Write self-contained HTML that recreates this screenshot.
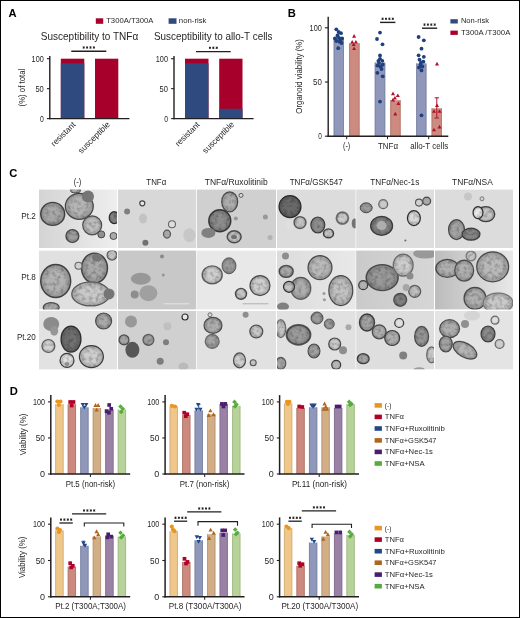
<!DOCTYPE html>
<html><head><meta charset="utf-8"><title>figure</title><style>
html,body{margin:0;padding:0;background:#fff;width:520px;height:618px;overflow:hidden;}
svg{display:block;will-change:transform;}
text{font-family:"Liberation Sans",sans-serif;}
</style></head><body>
<svg width="520" height="618" viewBox="0 0 520 618">
<text x="8.60" y="17.10" font-size="11.2" fill="#000" font-weight="bold" >A</text>
<rect x="95.80" y="18.30" width="7.40" height="5.50" fill="#a6002b" />
<text x="106.20" y="23.40" font-size="7.7" textLength="47.30" lengthAdjust="spacingAndGlyphs" fill="#231f20" >T300A/T300A</text>
<rect x="168.60" y="18.30" width="7.90" height="5.50" fill="#2e4a7e" />
<text x="178.80" y="23.40" font-size="7.7" textLength="27.70" lengthAdjust="spacingAndGlyphs" fill="#231f20" >non-risk</text>
<text x="40.80" y="39.70" font-size="10.2" textLength="97.40" lengthAdjust="spacingAndGlyphs" fill="#231f20" >Susceptibility to TNFα</text>
<rect x="60.80" y="58.70" width="23.50" height="59.90" fill="#a6002b" />
<rect x="60.80" y="63.30" width="23.50" height="55.30" fill="#2e4a7e" />
<rect x="95.00" y="58.70" width="23.30" height="59.90" fill="#a6002b" />
<line x1="49.80" y1="56.00" x2="49.80" y2="119.30" stroke="#231f20" stroke-width="1.4"/>
<line x1="49.10" y1="118.60" x2="129.40" y2="118.60" stroke="#231f20" stroke-width="1.4"/>
<line x1="46.90" y1="58.70" x2="49.80" y2="58.70" stroke="#231f20" stroke-width="1.1"/>
<text x="43.80" y="61.60" font-size="8.9" text-anchor="end" textLength="12.20" lengthAdjust="spacingAndGlyphs" fill="#231f20" >100</text>
<line x1="46.90" y1="88.65" x2="49.80" y2="88.65" stroke="#231f20" stroke-width="1.1"/>
<text x="43.80" y="91.55" font-size="8.9" text-anchor="end" textLength="8.40" lengthAdjust="spacingAndGlyphs" fill="#231f20" >50</text>
<line x1="46.90" y1="118.60" x2="49.80" y2="118.60" stroke="#231f20" stroke-width="1.1"/>
<text x="43.80" y="121.50" font-size="8.9" text-anchor="end" textLength="3.80" lengthAdjust="spacingAndGlyphs" fill="#231f20" >0</text>
<line x1="71.30" y1="51.30" x2="106.30" y2="51.30" stroke="#231f20" stroke-width="1.4"/>
<g stroke="#231f20" stroke-width="0.95"><line x1="83.70" y1="46.35" x2="83.70" y2="48.65"/><line x1="82.70" y1="46.92" x2="84.70" y2="48.08"/><line x1="82.70" y1="48.08" x2="84.70" y2="46.92"/></g>
<g stroke="#231f20" stroke-width="0.95"><line x1="87.10" y1="46.35" x2="87.10" y2="48.65"/><line x1="86.10" y1="46.92" x2="88.10" y2="48.08"/><line x1="86.10" y1="48.08" x2="88.10" y2="46.92"/></g>
<g stroke="#231f20" stroke-width="0.95"><line x1="90.50" y1="46.35" x2="90.50" y2="48.65"/><line x1="89.50" y1="46.92" x2="91.50" y2="48.08"/><line x1="89.50" y1="48.08" x2="91.50" y2="46.92"/></g>
<g stroke="#231f20" stroke-width="0.95"><line x1="93.90" y1="46.35" x2="93.90" y2="48.65"/><line x1="92.90" y1="46.92" x2="94.90" y2="48.08"/><line x1="92.90" y1="48.08" x2="94.90" y2="46.92"/></g>
<g transform="translate(21.70 87.60) rotate(-90)"><text x="0" y="3.20" font-size="9.2" text-anchor="middle" textLength="37.60" lengthAdjust="spacingAndGlyphs" fill="#231f20">(%) of total</text></g>
<g transform="translate(76.00 125.20) rotate(-45)"><text x="0" y="0.00" font-size="8.4" text-anchor="end" textLength="30.80" lengthAdjust="spacingAndGlyphs" fill="#231f20">resistant</text></g>
<g transform="translate(110.60 124.90) rotate(-45)"><text x="0" y="0.00" font-size="8.4" text-anchor="end" textLength="41.00" lengthAdjust="spacingAndGlyphs" fill="#231f20">susceptible</text></g>
<text x="154.00" y="39.70" font-size="10.2" textLength="118.50" lengthAdjust="spacingAndGlyphs" fill="#231f20" >Susceptibility to allo-T cells</text>
<rect x="185.00" y="58.70" width="23.50" height="59.90" fill="#a6002b" />
<rect x="185.00" y="63.30" width="23.50" height="55.30" fill="#2e4a7e" />
<rect x="219.20" y="58.70" width="23.30" height="59.90" fill="#a6002b" />
<rect x="219.20" y="108.80" width="23.30" height="9.80" fill="#2e4a7e" />
<line x1="174.00" y1="56.00" x2="174.00" y2="119.30" stroke="#231f20" stroke-width="1.4"/>
<line x1="173.30" y1="118.60" x2="253.60" y2="118.60" stroke="#231f20" stroke-width="1.4"/>
<line x1="171.10" y1="58.70" x2="174.00" y2="58.70" stroke="#231f20" stroke-width="1.1"/>
<text x="168.00" y="61.60" font-size="8.9" text-anchor="end" textLength="12.20" lengthAdjust="spacingAndGlyphs" fill="#231f20" >100</text>
<line x1="171.10" y1="88.65" x2="174.00" y2="88.65" stroke="#231f20" stroke-width="1.1"/>
<text x="168.00" y="91.55" font-size="8.9" text-anchor="end" textLength="8.40" lengthAdjust="spacingAndGlyphs" fill="#231f20" >50</text>
<line x1="171.10" y1="118.60" x2="174.00" y2="118.60" stroke="#231f20" stroke-width="1.1"/>
<text x="168.00" y="121.50" font-size="8.9" text-anchor="end" textLength="3.80" lengthAdjust="spacingAndGlyphs" fill="#231f20" >0</text>
<line x1="196.00" y1="51.60" x2="230.70" y2="51.60" stroke="#231f20" stroke-width="1.4"/>
<g stroke="#231f20" stroke-width="0.95"><line x1="209.95" y1="46.65" x2="209.95" y2="48.95"/><line x1="208.95" y1="47.23" x2="210.95" y2="48.38"/><line x1="208.95" y1="48.38" x2="210.95" y2="47.23"/></g>
<g stroke="#231f20" stroke-width="0.95"><line x1="213.35" y1="46.65" x2="213.35" y2="48.95"/><line x1="212.35" y1="47.23" x2="214.35" y2="48.38"/><line x1="212.35" y1="48.38" x2="214.35" y2="47.23"/></g>
<g stroke="#231f20" stroke-width="0.95"><line x1="216.75" y1="46.65" x2="216.75" y2="48.95"/><line x1="215.75" y1="47.23" x2="217.75" y2="48.38"/><line x1="215.75" y1="48.38" x2="217.75" y2="47.23"/></g>
<g transform="translate(200.20 125.20) rotate(-45)"><text x="0" y="0.00" font-size="8.4" text-anchor="end" textLength="30.80" lengthAdjust="spacingAndGlyphs" fill="#231f20">resistant</text></g>
<g transform="translate(234.80 124.90) rotate(-45)"><text x="0" y="0.00" font-size="8.4" text-anchor="end" textLength="41.00" lengthAdjust="spacingAndGlyphs" fill="#231f20">susceptible</text></g>
<text x="287.80" y="17.30" font-size="11.2" fill="#000" font-weight="bold" >B</text>
<rect x="333.70" y="37.00" width="10.20" height="99.20" fill="#8f97ba" />
<line x1="334.10" y1="37.00" x2="334.10" y2="136.20" stroke="#7a819f" stroke-width="0.8"/>
<line x1="343.50" y1="37.00" x2="343.50" y2="136.20" stroke="#7a819f" stroke-width="0.8"/>
<rect x="349.20" y="43.20" width="10.30" height="93.00" fill="#cc8b7e" />
<line x1="349.60" y1="43.20" x2="349.60" y2="136.20" stroke="#af776c" stroke-width="0.8"/>
<line x1="359.10" y1="43.20" x2="359.10" y2="136.20" stroke="#af776c" stroke-width="0.8"/>
<rect x="374.80" y="62.50" width="10.40" height="73.70" fill="#8f97ba" />
<line x1="375.20" y1="62.50" x2="375.20" y2="136.20" stroke="#7a819f" stroke-width="0.8"/>
<line x1="384.80" y1="62.50" x2="384.80" y2="136.20" stroke="#7a819f" stroke-width="0.8"/>
<rect x="390.30" y="100.20" width="10.30" height="36.00" fill="#cc8b7e" />
<line x1="390.70" y1="100.20" x2="390.70" y2="136.20" stroke="#af776c" stroke-width="0.8"/>
<line x1="400.20" y1="100.20" x2="400.20" y2="136.20" stroke="#af776c" stroke-width="0.8"/>
<rect x="416.20" y="63.40" width="10.20" height="72.80" fill="#8f97ba" />
<line x1="416.60" y1="63.40" x2="416.60" y2="136.20" stroke="#7a819f" stroke-width="0.8"/>
<line x1="426.00" y1="63.40" x2="426.00" y2="136.20" stroke="#7a819f" stroke-width="0.8"/>
<rect x="431.60" y="108.30" width="10.30" height="27.90" fill="#cc8b7e" />
<line x1="432.00" y1="108.30" x2="432.00" y2="136.20" stroke="#af776c" stroke-width="0.8"/>
<line x1="441.50" y1="108.30" x2="441.50" y2="136.20" stroke="#af776c" stroke-width="0.8"/>
<line x1="436.80" y1="97.80" x2="436.80" y2="118.00" stroke="#b0102e" stroke-width="1.0"/>
<line x1="434.60" y1="97.80" x2="439.00" y2="97.80" stroke="#b0102e" stroke-width="1.0"/>
<line x1="434.60" y1="118.00" x2="439.00" y2="118.00" stroke="#b0102e" stroke-width="1.0"/>
<circle cx="336.30" cy="29.30" r="1.90" fill="#1f3f7d"/>
<circle cx="338.60" cy="32.00" r="1.90" fill="#1f3f7d"/>
<circle cx="341.00" cy="33.20" r="1.90" fill="#1f3f7d"/>
<circle cx="335.00" cy="38.40" r="1.90" fill="#1f3f7d"/>
<circle cx="339.00" cy="37.90" r="1.90" fill="#1f3f7d"/>
<circle cx="342.00" cy="38.40" r="1.90" fill="#1f3f7d"/>
<circle cx="336.30" cy="41.00" r="1.90" fill="#1f3f7d"/>
<circle cx="339.60" cy="41.70" r="1.90" fill="#1f3f7d"/>
<circle cx="341.50" cy="43.00" r="1.90" fill="#1f3f7d"/>
<circle cx="338.20" cy="48.20" r="1.90" fill="#1f3f7d"/>
<circle cx="337.50" cy="35.50" r="1.90" fill="#1f3f7d"/>
<circle cx="340.50" cy="40.00" r="1.90" fill="#1f3f7d"/>
<circle cx="380.00" cy="32.60" r="1.90" fill="#1f3f7d"/>
<circle cx="377.00" cy="39.00" r="1.90" fill="#1f3f7d"/>
<circle cx="382.50" cy="44.30" r="1.90" fill="#1f3f7d"/>
<circle cx="380.00" cy="55.50" r="1.90" fill="#1f3f7d"/>
<circle cx="380.00" cy="58.80" r="1.90" fill="#1f3f7d"/>
<circle cx="378.40" cy="60.80" r="1.90" fill="#1f3f7d"/>
<circle cx="382.30" cy="60.80" r="1.90" fill="#1f3f7d"/>
<circle cx="377.40" cy="65.60" r="1.90" fill="#1f3f7d"/>
<circle cx="380.30" cy="66.60" r="1.90" fill="#1f3f7d"/>
<circle cx="382.70" cy="64.70" r="1.90" fill="#1f3f7d"/>
<circle cx="377.40" cy="72.80" r="1.90" fill="#1f3f7d"/>
<circle cx="382.70" cy="76.30" r="1.90" fill="#1f3f7d"/>
<circle cx="380.00" cy="101.60" r="1.90" fill="#1f3f7d"/>
<circle cx="379.00" cy="63.00" r="1.90" fill="#1f3f7d"/>
<circle cx="381.50" cy="69.00" r="1.90" fill="#1f3f7d"/>
<circle cx="418.60" cy="37.00" r="1.90" fill="#1f3f7d"/>
<circle cx="423.80" cy="40.30" r="1.90" fill="#1f3f7d"/>
<circle cx="421.50" cy="48.70" r="1.90" fill="#1f3f7d"/>
<circle cx="418.60" cy="55.30" r="1.90" fill="#1f3f7d"/>
<circle cx="423.80" cy="56.80" r="1.90" fill="#1f3f7d"/>
<circle cx="419.50" cy="59.70" r="1.90" fill="#1f3f7d"/>
<circle cx="423.40" cy="61.70" r="1.90" fill="#1f3f7d"/>
<circle cx="420.50" cy="64.60" r="1.90" fill="#1f3f7d"/>
<circle cx="422.40" cy="66.50" r="1.90" fill="#1f3f7d"/>
<circle cx="419.00" cy="67.50" r="1.90" fill="#1f3f7d"/>
<circle cx="421.50" cy="70.40" r="1.90" fill="#1f3f7d"/>
<circle cx="421.50" cy="115.30" r="1.90" fill="#1f3f7d"/>
<circle cx="421.00" cy="62.50" r="1.90" fill="#1f3f7d"/>
<polygon points="352.10,37.70 356.10,37.70 354.10,34.10" fill="#b0102e"/>
<polygon points="350.20,43.50 354.20,43.50 352.20,39.90" fill="#b0102e"/>
<polygon points="353.90,43.50 357.90,43.50 355.90,39.90" fill="#b0102e"/>
<polygon points="351.70,46.10 355.70,46.10 353.70,42.50" fill="#b0102e"/>
<polygon points="352.10,50.00 356.10,50.00 354.10,46.40" fill="#b0102e"/>
<polygon points="391.00,95.20 395.00,95.20 393.00,91.60" fill="#b0102e"/>
<polygon points="395.80,97.10 399.80,97.10 397.80,93.50" fill="#b0102e"/>
<polygon points="392.90,99.50 396.90,99.50 394.90,95.90" fill="#b0102e"/>
<polygon points="391.00,101.40 395.00,101.40 393.00,97.80" fill="#b0102e"/>
<polygon points="396.40,104.90 400.40,104.90 398.40,101.30" fill="#b0102e"/>
<polygon points="393.30,115.40 397.30,115.40 395.30,111.80" fill="#b0102e"/>
<polygon points="435.00,65.40 439.00,65.40 437.00,61.80" fill="#b0102e"/>
<polygon points="435.00,107.10 439.00,107.10 437.00,103.50" fill="#b0102e"/>
<polygon points="432.00,112.80 436.00,112.80 434.00,109.20" fill="#b0102e"/>
<polygon points="437.50,112.80 441.50,112.80 439.50,109.20" fill="#b0102e"/>
<polygon points="432.00,131.30 436.00,131.30 434.00,127.70" fill="#b0102e"/>
<polygon points="437.50,128.40 441.50,128.40 439.50,124.80" fill="#b0102e"/>
<line x1="328.20" y1="16.80" x2="328.20" y2="136.90" stroke="#231f20" stroke-width="1.4"/>
<line x1="327.50" y1="136.20" x2="448.30" y2="136.20" stroke="#231f20" stroke-width="1.4"/>
<line x1="324.90" y1="27.80" x2="328.20" y2="27.80" stroke="#231f20" stroke-width="1.1"/>
<text x="321.80" y="31.00" font-size="9.4" text-anchor="end" textLength="12.20" lengthAdjust="spacingAndGlyphs" fill="#231f20" >100</text>
<line x1="324.90" y1="82.00" x2="328.20" y2="82.00" stroke="#231f20" stroke-width="1.1"/>
<text x="321.80" y="85.20" font-size="9.4" text-anchor="end" textLength="8.80" lengthAdjust="spacingAndGlyphs" fill="#231f20" >50</text>
<line x1="324.90" y1="136.20" x2="328.20" y2="136.20" stroke="#231f20" stroke-width="1.1"/>
<text x="321.80" y="139.40" font-size="9.4" text-anchor="end" textLength="3.60" lengthAdjust="spacingAndGlyphs" fill="#231f20" >0</text>
<line x1="346.70" y1="136.20" x2="346.70" y2="139.20" stroke="#231f20" stroke-width="1.0"/>
<line x1="387.50" y1="136.20" x2="387.50" y2="139.20" stroke="#231f20" stroke-width="1.0"/>
<line x1="428.70" y1="136.20" x2="428.70" y2="139.20" stroke="#231f20" stroke-width="1.0"/>
<text x="346.60" y="149.00" font-size="8.8" text-anchor="middle" textLength="7.20" lengthAdjust="spacingAndGlyphs" fill="#231f20" >(-)</text>
<text x="388.00" y="149.00" font-size="8.8" text-anchor="middle" textLength="20.00" lengthAdjust="spacingAndGlyphs" fill="#231f20" >TNFα</text>
<text x="429.20" y="149.00" font-size="8.8" text-anchor="middle" textLength="38.00" lengthAdjust="spacingAndGlyphs" fill="#231f20" >allo-T cells</text>
<g transform="translate(299.00 76.40) rotate(-90)"><text x="0" y="3.40" font-size="9.8" text-anchor="middle" textLength="74.50" lengthAdjust="spacingAndGlyphs" fill="#231f20">Organoid viability (%)</text></g>
<line x1="380.00" y1="22.40" x2="395.40" y2="22.40" stroke="#231f20" stroke-width="1.4"/>
<g stroke="#231f20" stroke-width="0.95"><line x1="382.60" y1="17.65" x2="382.60" y2="19.95"/><line x1="381.60" y1="18.23" x2="383.60" y2="19.38"/><line x1="381.60" y1="19.38" x2="383.60" y2="18.23"/></g>
<g stroke="#231f20" stroke-width="0.95"><line x1="386.00" y1="17.65" x2="386.00" y2="19.95"/><line x1="385.00" y1="18.23" x2="387.00" y2="19.38"/><line x1="385.00" y1="19.38" x2="387.00" y2="18.23"/></g>
<g stroke="#231f20" stroke-width="0.95"><line x1="389.40" y1="17.65" x2="389.40" y2="19.95"/><line x1="388.40" y1="18.23" x2="390.40" y2="19.38"/><line x1="388.40" y1="19.38" x2="390.40" y2="18.23"/></g>
<g stroke="#231f20" stroke-width="0.95"><line x1="392.80" y1="17.65" x2="392.80" y2="19.95"/><line x1="391.80" y1="18.23" x2="393.80" y2="19.38"/><line x1="391.80" y1="19.38" x2="393.80" y2="18.23"/></g>
<line x1="422.00" y1="28.20" x2="437.20" y2="28.20" stroke="#231f20" stroke-width="1.4"/>
<g stroke="#231f20" stroke-width="0.95"><line x1="424.50" y1="23.45" x2="424.50" y2="25.75"/><line x1="423.50" y1="24.03" x2="425.50" y2="25.18"/><line x1="423.50" y1="25.18" x2="425.50" y2="24.03"/></g>
<g stroke="#231f20" stroke-width="0.95"><line x1="427.90" y1="23.45" x2="427.90" y2="25.75"/><line x1="426.90" y1="24.03" x2="428.90" y2="25.18"/><line x1="426.90" y1="25.18" x2="428.90" y2="24.03"/></g>
<g stroke="#231f20" stroke-width="0.95"><line x1="431.30" y1="23.45" x2="431.30" y2="25.75"/><line x1="430.30" y1="24.03" x2="432.30" y2="25.18"/><line x1="430.30" y1="25.18" x2="432.30" y2="24.03"/></g>
<g stroke="#231f20" stroke-width="0.95"><line x1="434.70" y1="23.45" x2="434.70" y2="25.75"/><line x1="433.70" y1="24.03" x2="435.70" y2="25.18"/><line x1="433.70" y1="25.18" x2="435.70" y2="24.03"/></g>
<rect x="450.40" y="19.20" width="7.40" height="4.30" fill="#2e4a7e" />
<text x="460.90" y="23.40" font-size="7.9" textLength="28.20" lengthAdjust="spacingAndGlyphs" fill="#231f20" >Non-risk</text>
<rect x="450.40" y="30.60" width="7.40" height="4.30" fill="#a6002b" />
<text x="460.90" y="34.90" font-size="7.9" textLength="49.40" lengthAdjust="spacingAndGlyphs" fill="#231f20" >T300A /T300A</text>
<text x="9.30" y="177.00" font-size="11.2" fill="#000" font-weight="bold" >C</text>
<text x="77.60" y="184.90" font-size="8.6" text-anchor="middle" textLength="7.50" lengthAdjust="spacingAndGlyphs" fill="#231f20" >(-)</text>
<text x="156.30" y="184.90" font-size="8.6" text-anchor="middle" textLength="20.00" lengthAdjust="spacingAndGlyphs" fill="#231f20" >TNFα</text>
<text x="236.20" y="184.90" font-size="8.6" text-anchor="middle" textLength="63.00" lengthAdjust="spacingAndGlyphs" fill="#231f20" >TNFα/Ruxolitinib</text>
<text x="316.20" y="184.90" font-size="8.6" text-anchor="middle" textLength="53.00" lengthAdjust="spacingAndGlyphs" fill="#231f20" >TNFα/GSK547</text>
<text x="394.80" y="184.90" font-size="8.6" text-anchor="middle" textLength="49.00" lengthAdjust="spacingAndGlyphs" fill="#231f20" >TNFα/Nec-1s</text>
<text x="472.40" y="184.90" font-size="8.6" text-anchor="middle" textLength="40.80" lengthAdjust="spacingAndGlyphs" fill="#231f20" >TNFα/NSA</text>
<text x="35.80" y="218.50" font-size="8.8" text-anchor="end" textLength="14.50" lengthAdjust="spacingAndGlyphs" fill="#231f20" >Pt.2</text>
<text x="35.80" y="280.00" font-size="8.8" text-anchor="end" textLength="14.50" lengthAdjust="spacingAndGlyphs" fill="#231f20" >Pt.8</text>
<text x="35.80" y="340.00" font-size="8.8" text-anchor="end" textLength="18.80" lengthAdjust="spacingAndGlyphs" fill="#231f20" >Pt.20</text>
<defs><radialGradient id="rim"><stop offset="0.55" stop-color="#000" stop-opacity="0"/><stop offset="0.92" stop-color="#000" stop-opacity="0.16"/><stop offset="1" stop-color="#000" stop-opacity="0.28"/></radialGradient>
<filter id="bl" x="-5%" y="-5%" width="110%" height="110%"><feGaussianBlur stdDeviation="0.55"/></filter>
<filter id="tx" x="0" y="0" width="100%" height="100%"><feTurbulence type="fractalNoise" baseFrequency="0.28" numOctaves="2" seed="3" result="n"/><feColorMatrix in="n" type="matrix" values="0 0 0 0 0  0 0 0 0 0  0 0 0 0 0  0.6 0 0 0 -0.26" result="a"/><feComposite in="a" in2="SourceAlpha" operator="in" result="m"/><feGaussianBlur in="m" stdDeviation="0.3"/></filter>
<clipPath id="cp00"><rect x="39.00" y="189.60" width="78.00" height="58.40"/></clipPath>
<clipPath id="cp01"><rect x="118.00" y="189.60" width="78.20" height="58.40"/></clipPath>
<clipPath id="cp02"><rect x="197.00" y="189.60" width="79.00" height="58.40"/></clipPath>
<clipPath id="cp03"><rect x="277.00" y="189.60" width="78.60" height="58.40"/></clipPath>
<clipPath id="cp04"><rect x="356.20" y="189.60" width="77.80" height="58.40"/></clipPath>
<clipPath id="cp05"><rect x="435.00" y="189.60" width="78.00" height="58.40"/></clipPath>
<clipPath id="cp10"><rect x="39.00" y="250.60" width="78.00" height="58.80"/></clipPath>
<clipPath id="cp11"><rect x="118.00" y="250.60" width="78.20" height="58.80"/></clipPath>
<clipPath id="cp12"><rect x="197.00" y="250.60" width="79.00" height="58.80"/></clipPath>
<clipPath id="cp13"><rect x="277.00" y="250.60" width="78.60" height="58.80"/></clipPath>
<clipPath id="cp14"><rect x="356.20" y="250.60" width="77.80" height="58.80"/></clipPath>
<clipPath id="cp15"><rect x="435.00" y="250.60" width="78.00" height="58.80"/></clipPath>
<clipPath id="cp20"><rect x="39.00" y="311.00" width="78.00" height="58.30"/></clipPath>
<clipPath id="cp21"><rect x="118.00" y="311.00" width="78.20" height="58.30"/></clipPath>
<clipPath id="cp22"><rect x="197.00" y="311.00" width="79.00" height="58.30"/></clipPath>
<clipPath id="cp23"><rect x="277.00" y="311.00" width="78.60" height="58.30"/></clipPath>
<clipPath id="cp24"><rect x="356.20" y="311.00" width="77.80" height="58.30"/></clipPath>
<clipPath id="cp25"><rect x="435.00" y="311.00" width="78.00" height="58.30"/></clipPath>
</defs>
<linearGradient id="g00" x1="0" y1="0" x2="1" y2="0"><stop offset="0" stop-color="#d4d4d4"/><stop offset="1" stop-color="#eeeeee"/></linearGradient>
<rect x="39.00" y="189.60" width="78.00" height="58.40" fill="url(#g00)" />
<g clip-path="url(#cp00)"><g filter="url(#bl)" transform="translate(39.00 189.60)">
<ellipse cx="36.5" cy="0.8" rx="5" ry="2.5" fill="#a9a9a9" stroke="#555" stroke-width="0.96"/>
<ellipse cx="36.5" cy="0.8" rx="5" ry="2.5" fill="url(#rim)"/>
<ellipse cx="36.5" cy="0.8" rx="4.60" ry="2.30" fill="#000" filter="url(#tx)"/>
<ellipse cx="13.7" cy="24.3" rx="12" ry="11.5" fill="#a8a8a8" stroke="#4a4a4a" stroke-width="1.44"/>
<ellipse cx="13.7" cy="24.3" rx="12" ry="11.5" fill="url(#rim)"/>
<ellipse cx="13.7" cy="24.3" rx="11.04" ry="10.58" fill="#000" filter="url(#tx)"/>
<ellipse cx="40.3" cy="16.7" rx="14" ry="13" fill="#b5b5b5" stroke="#505050" stroke-width="1.20"/>
<ellipse cx="40.3" cy="16.7" rx="14" ry="13" fill="url(#rim)"/>
<ellipse cx="40.3" cy="16.7" rx="12.88" ry="11.96" fill="#000" filter="url(#tx)"/>
<ellipse cx="49" cy="7" rx="6" ry="6" fill="#747474"/>
<ellipse cx="53.2" cy="35.7" rx="9.5" ry="9.5" fill="#bfbfbf" stroke="#5a5a5a" stroke-width="1.20"/>
<ellipse cx="53.2" cy="35.7" rx="9.5" ry="9.5" fill="url(#rim)"/>
<ellipse cx="53.2" cy="35.7" rx="8.74" ry="8.74" fill="#000" filter="url(#tx)"/>
<ellipse cx="33.4" cy="46.4" rx="6.5" ry="6.5" fill="#9e9e9e" stroke="#4a4a4a" stroke-width="1.20"/>
<ellipse cx="33.4" cy="46.4" rx="6.5" ry="6.5" fill="url(#rim)"/>
<ellipse cx="33.4" cy="46.4" rx="5.98" ry="5.98" fill="#000" filter="url(#tx)"/>
<ellipse cx="62.3" cy="44.8" rx="3.5" ry="3.5" fill="#909090" stroke="#444" stroke-width="0.96"/>
<ellipse cx="75.2" cy="28.1" rx="5" ry="6" fill="#848484" stroke="#333" stroke-width="1.20"/>
<ellipse cx="75.2" cy="28.1" rx="5" ry="6" fill="url(#rim)"/>
<ellipse cx="75.2" cy="28.1" rx="4.60" ry="5.52" fill="#000" filter="url(#tx)"/>
<ellipse cx="74.5" cy="46.4" rx="3.5" ry="3.5" fill="#ababab" stroke="#444" stroke-width="0.96"/>
</g></g>
<rect x="118.00" y="189.60" width="78.20" height="58.40" fill="#d8d8d8" />
<g clip-path="url(#cp01)"><g filter="url(#bl)" transform="translate(118.00 189.60)">
<ellipse cx="25" cy="29" rx="4" ry="5" fill="#c3c3c3"/>
<ellipse cx="71.4" cy="45.6" rx="6" ry="7" fill="#c7c7c7"/>
<ellipse cx="24.3" cy="13.7" rx="2.5" ry="2.5" fill="#ebebeb" stroke="#444" stroke-width="1.20"/>
<ellipse cx="9.1" cy="22" rx="3" ry="3" fill="#7f7f7f"/>
<ellipse cx="54" cy="34.7" rx="3.5" ry="3.5" fill="#dedede" stroke="#666" stroke-width="1.08"/>
<ellipse cx="49" cy="44.5" rx="3.5" ry="4" fill="#a7a7a7" stroke="#555" stroke-width="1.20"/>
<ellipse cx="27.4" cy="53.2" rx="3" ry="3" fill="#727272"/>
</g></g>
<rect x="197.00" y="189.60" width="79.00" height="58.40" fill="#d0d0d0" />
<g clip-path="url(#cp02)"><g filter="url(#bl)" transform="translate(197.00 189.60)">
<ellipse cx="32.7" cy="12.2" rx="8" ry="10" fill="#aeaeae" stroke="#555" stroke-width="1.20"/>
<ellipse cx="32.7" cy="12.2" rx="8" ry="10" fill="url(#rim)"/>
<ellipse cx="32.7" cy="12.2" rx="7.36" ry="9.20" fill="#000" filter="url(#tx)"/>
<ellipse cx="22.8" cy="31.2" rx="11" ry="11" fill="#8d8d8d" stroke="#404040" stroke-width="1.44"/>
<ellipse cx="22.8" cy="31.2" rx="11" ry="11" fill="url(#rim)"/>
<ellipse cx="22.8" cy="31.2" rx="10.12" ry="10.12" fill="#000" filter="url(#tx)"/>
<ellipse cx="11.4" cy="43.3" rx="7" ry="5" fill="#808080"/>
<ellipse cx="37.2" cy="47.1" rx="7" ry="6" fill="#c4c4c4" stroke="#555" stroke-width="1.44"/>
<ellipse cx="37.2" cy="47.1" rx="7" ry="6" fill="url(#rim)"/>
<ellipse cx="37.2" cy="47.1" rx="6.44" ry="5.52" fill="#000" filter="url(#tx)"/>
<ellipse cx="37" cy="47.5" rx="3" ry="2" fill="#707070"/>
<ellipse cx="38.8" cy="28.9" rx="2" ry="2" fill="#989898"/>
<ellipse cx="68.4" cy="27.4" rx="2.5" ry="2.5" fill="#989898"/>
<ellipse cx="73" cy="47.9" rx="2.5" ry="2.5" fill="#b2b2b2"/>
<ellipse cx="44" cy="5.8" rx="2" ry="2" fill="#dadada" stroke="#555" stroke-width="0.96"/>
</g></g>
<rect x="277.00" y="189.60" width="78.60" height="58.40" fill="#dcdcdc" />
<g clip-path="url(#cp03)"><g filter="url(#bl)" transform="translate(277.00 189.60)">
<ellipse cx="13" cy="35.4" rx="5" ry="5" fill="#dfdfdf"/>
<ellipse cx="13" cy="17" rx="11" ry="11" fill="#6a6a6a" stroke="#333" stroke-width="1.20"/>
<ellipse cx="13" cy="17" rx="11" ry="11" fill="url(#rim)"/>
<ellipse cx="13" cy="17" rx="10.12" ry="10.12" fill="#000" filter="url(#tx)"/>
<ellipse cx="23" cy="33" rx="6" ry="6" fill="#c2c2c2" stroke="#666" stroke-width="1.44"/>
<ellipse cx="23" cy="33" rx="6" ry="6" fill="url(#rim)"/>
<ellipse cx="23" cy="33" rx="5.52" ry="5.52" fill="#000" filter="url(#tx)"/>
<ellipse cx="40.8" cy="35.4" rx="7" ry="8" fill="#909090" stroke="#444" stroke-width="1.20"/>
<ellipse cx="40.8" cy="35.4" rx="7" ry="8" fill="url(#rim)"/>
<ellipse cx="40.8" cy="35.4" rx="6.44" ry="7.36" fill="#000" filter="url(#tx)"/>
<ellipse cx="51.5" cy="43.8" rx="5" ry="4.5" fill="#c2c2c2" stroke="#444" stroke-width="1.44"/>
<ellipse cx="51.5" cy="43.8" rx="5" ry="4.5" fill="url(#rim)"/>
<ellipse cx="51.5" cy="43.8" rx="4.60" ry="4.14" fill="#000" filter="url(#tx)"/>
<ellipse cx="65.4" cy="28.5" rx="6" ry="6" fill="#cccccc" stroke="#777" stroke-width="1.80"/>
<ellipse cx="65.4" cy="28.5" rx="6" ry="6" fill="url(#rim)"/>
<ellipse cx="65.4" cy="28.5" rx="5.52" ry="5.52" fill="#000" filter="url(#tx)"/>
<ellipse cx="77.7" cy="33.8" rx="3" ry="5" fill="#737373"/>
</g></g>
<rect x="356.20" y="189.60" width="77.80" height="58.40" fill="#dedede" />
<g clip-path="url(#cp04)"><g filter="url(#bl)" transform="translate(356.20 189.60)">
<ellipse cx="10" cy="18.2" rx="6" ry="5" fill="#9c9c9c" stroke="#555" stroke-width="0.96"/>
<ellipse cx="10" cy="18.2" rx="6" ry="5" fill="url(#rim)"/>
<ellipse cx="10" cy="18.2" rx="5.52" ry="4.60" fill="#000" filter="url(#tx)"/>
<ellipse cx="27" cy="14.6" rx="4.5" ry="4.5" fill="#cacaca" stroke="#777" stroke-width="1.20"/>
<ellipse cx="27" cy="14.6" rx="4.5" ry="4.5" fill="url(#rim)"/>
<ellipse cx="25.4" cy="36.2" rx="11" ry="9.5" fill="#848484" stroke="#444" stroke-width="1.20"/>
<ellipse cx="25.4" cy="36.2" rx="11" ry="9.5" fill="url(#rim)"/>
<ellipse cx="25.4" cy="36.2" rx="10.12" ry="8.74" fill="#000" filter="url(#tx)"/>
<ellipse cx="25.4" cy="36" rx="5" ry="4.5" fill="#aeaeae"/>
<ellipse cx="57.7" cy="28.5" rx="6.5" ry="7.5" fill="#d9d9d9" stroke="#333" stroke-width="1.20"/>
<ellipse cx="57.7" cy="28.5" rx="6.5" ry="7.5" fill="url(#rim)"/>
<ellipse cx="57.7" cy="28.5" rx="5.98" ry="6.90" fill="#000" filter="url(#tx)"/>
<ellipse cx="62.8" cy="13" rx="3.5" ry="3.5" fill="#d0d0d0" stroke="#555" stroke-width="1.08"/>
<ellipse cx="70.5" cy="11.5" rx="4" ry="4" fill="#a8a8a8" stroke="#555" stroke-width="1.08"/>
<ellipse cx="70.5" cy="11.5" rx="4" ry="4" fill="url(#rim)"/>
<ellipse cx="49.2" cy="50.8" rx="1" ry="1" fill="#666666"/>
</g></g>
<rect x="435.00" y="189.60" width="78.00" height="58.40" fill="#dcdcdc" />
<g clip-path="url(#cp05)"><g filter="url(#bl)" transform="translate(435.00 189.60)">
<ellipse cx="33" cy="7" rx="4" ry="4" fill="#c6c6c6"/>
<ellipse cx="21.5" cy="40" rx="8" ry="10" fill="#a5a5a5" stroke="#555" stroke-width="1.20"/>
<ellipse cx="21.5" cy="40" rx="8" ry="10" fill="url(#rim)"/>
<ellipse cx="21.5" cy="40" rx="7.36" ry="9.20" fill="#000" filter="url(#tx)"/>
<ellipse cx="36" cy="44.6" rx="9" ry="6" fill="#868686" stroke="#444" stroke-width="1.20"/>
<ellipse cx="36" cy="44.6" rx="9" ry="6" fill="url(#rim)"/>
<ellipse cx="36" cy="44.6" rx="8.28" ry="5.52" fill="#000" filter="url(#tx)"/>
<ellipse cx="50.8" cy="24.6" rx="9" ry="7.5" fill="#c6c6c6" stroke="#444" stroke-width="1.20"/>
<ellipse cx="50.8" cy="24.6" rx="9" ry="7.5" fill="url(#rim)"/>
<ellipse cx="50.8" cy="24.6" rx="8.28" ry="6.90" fill="#000" filter="url(#tx)"/>
<ellipse cx="43" cy="23" rx="5" ry="6" fill="#eaeaea" stroke="#333" stroke-width="1.20"/>
<ellipse cx="43" cy="23" rx="5" ry="6" fill="url(#rim)"/>
<ellipse cx="43" cy="23" rx="4.60" ry="5.52" fill="#000" filter="url(#tx)"/>
<ellipse cx="47" cy="9.2" rx="2" ry="2" fill="#d0d0d0" stroke="#777" stroke-width="0.96"/>
</g></g>
<rect x="39.00" y="250.60" width="78.00" height="58.80" fill="#e0e0e0" />
<g clip-path="url(#cp10)"><g filter="url(#bl)" transform="translate(39.00 250.60)">
<ellipse cx="16.7" cy="30.4" rx="15" ry="16.5" fill="#b3b3b3" stroke="#4a4a4a" stroke-width="1.44"/>
<ellipse cx="16.7" cy="30.4" rx="15" ry="16.5" fill="url(#rim)"/>
<ellipse cx="16.7" cy="30.4" rx="13.80" ry="15.18" fill="#000" filter="url(#tx)"/>
<ellipse cx="55.5" cy="17.5" rx="13" ry="15" fill="#a9a9a9" stroke="#4a4a4a" stroke-width="1.44"/>
<ellipse cx="55.5" cy="17.5" rx="13" ry="15" fill="url(#rim)"/>
<ellipse cx="55.5" cy="17.5" rx="11.96" ry="13.80" fill="#000" filter="url(#tx)"/>
<ellipse cx="58" cy="7" rx="5" ry="4" fill="#747474"/>
<ellipse cx="51.7" cy="43.3" rx="19" ry="12" fill="#c9c9c9" stroke="#666" stroke-width="1.20"/>
<ellipse cx="51.7" cy="43.3" rx="19" ry="12" fill="url(#rim)"/>
<ellipse cx="51.7" cy="43.3" rx="17.48" ry="11.04" fill="#000" filter="url(#tx)"/>
<ellipse cx="70" cy="43.3" rx="5.5" ry="5.5" fill="#747474"/>
<ellipse cx="39.5" cy="15.2" rx="3.5" ry="3.5" fill="#d0d0d0" stroke="#666" stroke-width="1.08"/>
<ellipse cx="73" cy="4.6" rx="5" ry="5" fill="#c3c3c3" stroke="#666" stroke-width="1.08"/>
<ellipse cx="73" cy="4.6" rx="5" ry="5" fill="url(#rim)"/>
<ellipse cx="73" cy="4.6" rx="4.60" ry="4.60" fill="#000" filter="url(#tx)"/>
<ellipse cx="12.2" cy="57" rx="8" ry="5" fill="#a9a9a9" stroke="#555" stroke-width="1.20"/>
<ellipse cx="12.2" cy="57" rx="8" ry="5" fill="url(#rim)"/>
<ellipse cx="12.2" cy="57" rx="7.36" ry="4.60" fill="#000" filter="url(#tx)"/>
</g></g>
<rect x="118.00" y="250.60" width="78.20" height="58.80" fill="#c8c8c8" />
<g clip-path="url(#cp11)"><g filter="url(#bl)" transform="translate(118.00 250.60)">
<ellipse cx="22.8" cy="28.1" rx="10" ry="6" fill="#989898"/>
<ellipse cx="30.4" cy="42.6" rx="9" ry="8" fill="#a0a0a0"/>
<ellipse cx="16.7" cy="44" rx="4" ry="4" fill="#8d8d8d"/>
<ellipse cx="44" cy="6" rx="2" ry="2" fill="#898989"/>
<ellipse cx="45.3" cy="24.3" rx="1.5" ry="1.5" fill="#969696"/>
<line x1="45.6" y1="53.2" x2="71.4" y2="53.2" stroke="#e8e8e8" stroke-width="0.9"/>
</g></g>
<rect x="197.00" y="250.60" width="79.00" height="58.80" fill="#e8e8e8" />
<g clip-path="url(#cp12)"><g filter="url(#bl)" transform="translate(197.00 250.60)">
<ellipse cx="15.2" cy="24.3" rx="10" ry="9" fill="#cfcfcf" stroke="#666" stroke-width="1.44"/>
<ellipse cx="15.2" cy="24.3" rx="10" ry="9" fill="url(#rim)"/>
<ellipse cx="15.2" cy="24.3" rx="9.20" ry="8.28" fill="#000" filter="url(#tx)"/>
<ellipse cx="32" cy="15.2" rx="7" ry="8" fill="#9b9b9b" stroke="#666" stroke-width="0.96"/>
<ellipse cx="32" cy="15.2" rx="7" ry="8" fill="url(#rim)"/>
<ellipse cx="32" cy="15.2" rx="6.44" ry="7.36" fill="#000" filter="url(#tx)"/>
<ellipse cx="44" cy="43.3" rx="5.5" ry="5.5" fill="#c6c6c6" stroke="#555" stroke-width="1.44"/>
<ellipse cx="44" cy="43.3" rx="5.5" ry="5.5" fill="url(#rim)"/>
<ellipse cx="44" cy="43.3" rx="5.06" ry="5.06" fill="#000" filter="url(#tx)"/>
<ellipse cx="63" cy="35" rx="10" ry="10" fill="#cfcfcf" stroke="#555" stroke-width="1.20"/>
<ellipse cx="63" cy="35" rx="10" ry="10" fill="url(#rim)"/>
<ellipse cx="63" cy="35" rx="9.20" ry="9.20" fill="#000" filter="url(#tx)"/>
<line x1="45.6" y1="53.2" x2="71.4" y2="53.2" stroke="#a8a8a8" stroke-width="0.9"/>
</g></g>
<linearGradient id="g13" x1="0" y1="0" x2="1" y2="0"><stop offset="0" stop-color="#dcdcdc"/><stop offset="1" stop-color="#e8e8e8"/></linearGradient>
<rect x="277.00" y="250.60" width="78.60" height="58.80" fill="url(#g13)" />
<g clip-path="url(#cp13)"><g filter="url(#bl)" transform="translate(277.00 250.60)">
<ellipse cx="43" cy="17" rx="12" ry="12" fill="#bbbbbb" stroke="#555" stroke-width="1.20"/>
<ellipse cx="43" cy="17" rx="12" ry="12" fill="url(#rim)"/>
<ellipse cx="43" cy="17" rx="11.04" ry="11.04" fill="#000" filter="url(#tx)"/>
<ellipse cx="23.8" cy="37.7" rx="10" ry="11" fill="#aeaeae" stroke="#666" stroke-width="1.20"/>
<ellipse cx="23.8" cy="37.7" rx="10" ry="11" fill="url(#rim)"/>
<ellipse cx="23.8" cy="37.7" rx="9.20" ry="10.12" fill="#000" filter="url(#tx)"/>
<ellipse cx="12" cy="36.2" rx="5.5" ry="5.5" fill="#c3c3c3" stroke="#333" stroke-width="1.20"/>
<ellipse cx="12" cy="36.2" rx="5.5" ry="5.5" fill="url(#rim)"/>
<ellipse cx="12" cy="36.2" rx="5.06" ry="5.06" fill="#000" filter="url(#tx)"/>
<ellipse cx="9.2" cy="20.8" rx="7" ry="6" fill="#a8a8a8" stroke="#555" stroke-width="1.44"/>
<ellipse cx="9.2" cy="20.8" rx="7" ry="6" fill="url(#rim)"/>
<ellipse cx="9.2" cy="20.8" rx="6.44" ry="5.52" fill="#000" filter="url(#tx)"/>
<ellipse cx="8.5" cy="5.4" rx="3.5" ry="3.5" fill="#8d8d8d"/>
<ellipse cx="63.8" cy="40" rx="12" ry="15" fill="#c2c2c2" stroke="#555" stroke-width="1.20"/>
<ellipse cx="63.8" cy="40" rx="12" ry="15" fill="url(#rim)"/>
<ellipse cx="63.8" cy="40" rx="11.04" ry="13.80" fill="#000" filter="url(#tx)"/>
<ellipse cx="6" cy="56" rx="6" ry="4" fill="#808080"/>
<ellipse cx="47" cy="43" rx="1.5" ry="1.5" fill="#9c9c9c"/>
<ellipse cx="47.4" cy="49.2" rx="1.5" ry="1.5" fill="#9c9c9c"/>
</g></g>
<linearGradient id="g14" x1="0" y1="0" x2="1" y2="0"><stop offset="0" stop-color="#cacaca"/><stop offset="1" stop-color="#d6d6d6"/></linearGradient>
<rect x="356.20" y="250.60" width="77.80" height="58.80" fill="url(#g14)" />
<g clip-path="url(#cp14)"><g filter="url(#bl)" transform="translate(356.20 250.60)">
<ellipse cx="69" cy="3" rx="12" ry="5" fill="#999999"/>
<ellipse cx="26" cy="27" rx="16" ry="13" fill="#999999" stroke="#555" stroke-width="1.44"/>
<ellipse cx="26" cy="27" rx="16" ry="13" fill="url(#rim)"/>
<ellipse cx="26" cy="27" rx="14.72" ry="11.96" fill="#000" filter="url(#tx)"/>
<ellipse cx="47" cy="14.6" rx="10" ry="11" fill="#cdcdcd" stroke="#777" stroke-width="1.20"/>
<ellipse cx="47" cy="14.6" rx="10" ry="11" fill="url(#rim)"/>
<ellipse cx="47" cy="14.6" rx="9.20" ry="10.12" fill="#000" filter="url(#tx)"/>
<ellipse cx="7" cy="34.6" rx="4.5" ry="4.5" fill="#b1b1b1" stroke="#444" stroke-width="1.20"/>
<ellipse cx="7" cy="34.6" rx="4.5" ry="4.5" fill="url(#rim)"/>
<ellipse cx="44" cy="49.2" rx="6.5" ry="6.5" fill="#818181" stroke="#555" stroke-width="1.20"/>
<ellipse cx="44" cy="49.2" rx="6.5" ry="6.5" fill="url(#rim)"/>
<ellipse cx="44" cy="49.2" rx="5.98" ry="5.98" fill="#000" filter="url(#tx)"/>
<ellipse cx="58.5" cy="40.8" rx="6" ry="6" fill="#c0c0c0" stroke="#666" stroke-width="1.20"/>
<ellipse cx="58.5" cy="40.8" rx="6" ry="6" fill="url(#rim)"/>
<ellipse cx="58.5" cy="40.8" rx="5.52" ry="5.52" fill="#000" filter="url(#tx)"/>
<ellipse cx="50" cy="37" rx="3.5" ry="3.5" fill="#a6a6a6"/>
<ellipse cx="53.8" cy="25.4" rx="3.5" ry="3.5" fill="#8b8b8b"/>
</g></g>
<linearGradient id="g15" x1="0" y1="0" x2="1" y2="0"><stop offset="0" stop-color="#bcbcbc"/><stop offset="1" stop-color="#e8e8e8"/></linearGradient>
<rect x="435.00" y="250.60" width="78.00" height="58.80" fill="url(#g15)" />
<g clip-path="url(#cp15)"><g filter="url(#bl)" transform="translate(435.00 250.60)">
<ellipse cx="12.3" cy="17.7" rx="11.5" ry="9" fill="#b0b0b0" stroke="#555" stroke-width="1.20"/>
<ellipse cx="12.3" cy="17.7" rx="11.5" ry="9" fill="url(#rim)"/>
<ellipse cx="12.3" cy="17.7" rx="10.58" ry="8.28" fill="#000" filter="url(#tx)"/>
<ellipse cx="29.2" cy="20" rx="9.5" ry="10.5" fill="#b0b0b0" stroke="#555" stroke-width="1.20"/>
<ellipse cx="29.2" cy="20" rx="9.5" ry="10.5" fill="url(#rim)"/>
<ellipse cx="29.2" cy="20" rx="8.74" ry="9.66" fill="#000" filter="url(#tx)"/>
<ellipse cx="57.7" cy="16.2" rx="16" ry="15" fill="#bababa" stroke="#555" stroke-width="1.20"/>
<ellipse cx="57.7" cy="16.2" rx="16" ry="15" fill="url(#rim)"/>
<ellipse cx="57.7" cy="16.2" rx="14.72" ry="13.80" fill="#000" filter="url(#tx)"/>
<ellipse cx="40" cy="47.7" rx="11" ry="11" fill="#afafaf" stroke="#555" stroke-width="1.20"/>
<ellipse cx="40" cy="47.7" rx="11" ry="11" fill="url(#rim)"/>
<ellipse cx="40" cy="47.7" rx="10.12" ry="10.12" fill="#000" filter="url(#tx)"/>
<ellipse cx="63" cy="52.3" rx="15" ry="10" fill="#c9c9c9" stroke="#888" stroke-width="1.20"/>
<ellipse cx="63" cy="52.3" rx="15" ry="10" fill="url(#rim)"/>
<ellipse cx="63" cy="52.3" rx="13.80" ry="9.20" fill="#000" filter="url(#tx)"/>
<ellipse cx="36" cy="5.4" rx="5" ry="5" fill="#c8c8c8" stroke="#888" stroke-width="1.20"/>
<ellipse cx="36" cy="5.4" rx="5" ry="5" fill="url(#rim)"/>
<ellipse cx="36" cy="5.4" rx="4.60" ry="4.60" fill="#000" filter="url(#tx)"/>
</g></g>
<rect x="39.00" y="311.00" width="78.00" height="58.30" fill="#e2e2e2" />
<g clip-path="url(#cp20)"><g filter="url(#bl)" transform="translate(39.00 311.00)">
<ellipse cx="12.2" cy="13" rx="8" ry="7" fill="#8b8b8b"/>
<ellipse cx="15.2" cy="19.8" rx="4" ry="5" fill="#969696"/>
<ellipse cx="32" cy="28.1" rx="10" ry="13" fill="#707070" stroke="#333" stroke-width="1.20"/>
<ellipse cx="32" cy="28.1" rx="10" ry="13" fill="url(#rim)"/>
<ellipse cx="32" cy="28.1" rx="9.20" ry="11.96" fill="#000" filter="url(#tx)"/>
<ellipse cx="64.6" cy="10" rx="8" ry="8" fill="#aaaaaa" stroke="#555" stroke-width="1.20"/>
<ellipse cx="64.6" cy="10" rx="8" ry="8" fill="url(#rim)"/>
<ellipse cx="64.6" cy="10" rx="7.36" ry="7.36" fill="#000" filter="url(#tx)"/>
<ellipse cx="9.4" cy="35" rx="6.5" ry="6.5" fill="#d3d3d3" stroke="#666" stroke-width="1.20"/>
<ellipse cx="9.4" cy="35" rx="6.5" ry="6.5" fill="url(#rim)"/>
<ellipse cx="9.4" cy="35" rx="5.98" ry="5.98" fill="#000" filter="url(#tx)"/>
<ellipse cx="28" cy="49.4" rx="7" ry="7" fill="#e0e0e0" stroke="#444" stroke-width="1.20"/>
<ellipse cx="28" cy="49.4" rx="7" ry="7" fill="url(#rim)"/>
<ellipse cx="28" cy="49.4" rx="6.44" ry="6.44" fill="#000" filter="url(#tx)"/>
<ellipse cx="28" cy="53" rx="2.5" ry="2" fill="#8f8f8f"/>
<ellipse cx="52.4" cy="45.6" rx="12" ry="11" fill="#cecece" stroke="#444" stroke-width="1.20"/>
<ellipse cx="52.4" cy="45.6" rx="12" ry="11" fill="url(#rim)"/>
<ellipse cx="52.4" cy="45.6" rx="11.04" ry="10.12" fill="#000" filter="url(#tx)"/>
</g></g>
<rect x="118.00" y="311.00" width="78.20" height="58.30" fill="#d0d0d0" />
<g clip-path="url(#cp21)"><g filter="url(#bl)" transform="translate(118.00 311.00)">
<ellipse cx="65.3" cy="55.5" rx="5" ry="4" fill="#bababa"/>
<ellipse cx="49.4" cy="15.2" rx="4" ry="4" fill="#c0c0c0"/>
<ellipse cx="13" cy="10.6" rx="6" ry="6" fill="#989898"/>
<ellipse cx="6" cy="28.9" rx="5" ry="5" fill="#a5a5a5" stroke="#555" stroke-width="1.20"/>
<ellipse cx="6" cy="28.9" rx="5" ry="5" fill="url(#rim)"/>
<ellipse cx="6" cy="28.9" rx="4.60" ry="4.60" fill="#000" filter="url(#tx)"/>
<ellipse cx="14.4" cy="38.8" rx="7" ry="8" fill="#575757"/>
<ellipse cx="30.4" cy="28.9" rx="5.5" ry="5.5" fill="#a5a5a5" stroke="#666" stroke-width="1.20"/>
<ellipse cx="30.4" cy="28.9" rx="5.5" ry="5.5" fill="url(#rim)"/>
<ellipse cx="30.4" cy="28.9" rx="5.06" ry="5.06" fill="#000" filter="url(#tx)"/>
<ellipse cx="48" cy="31.2" rx="3" ry="3" fill="#7d7d7d"/>
<ellipse cx="42.2" cy="50.2" rx="3.5" ry="3.5" fill="#7d7d7d"/>
<ellipse cx="67" cy="6" rx="3" ry="3" fill="#e7e7e7" stroke="#333" stroke-width="1.20"/>
</g></g>
<rect x="197.00" y="311.00" width="79.00" height="58.30" fill="#e1e1e1" />
<g clip-path="url(#cp22)"><g filter="url(#bl)" transform="translate(197.00 311.00)">
<ellipse cx="16" cy="14.4" rx="9" ry="8" fill="#aeaeae" stroke="#555" stroke-width="1.20"/>
<ellipse cx="16" cy="14.4" rx="9" ry="8" fill="url(#rim)"/>
<ellipse cx="16" cy="14.4" rx="8.28" ry="7.36" fill="#000" filter="url(#tx)"/>
<ellipse cx="15.2" cy="30.4" rx="7" ry="7" fill="#a6a6a6" stroke="#777" stroke-width="1.20"/>
<ellipse cx="15.2" cy="30.4" rx="7" ry="7" fill="url(#rim)"/>
<ellipse cx="15.2" cy="30.4" rx="6.44" ry="6.44" fill="#000" filter="url(#tx)"/>
<ellipse cx="59.3" cy="20.5" rx="6.5" ry="6.5" fill="#c7c7c7" stroke="#555" stroke-width="1.20"/>
<ellipse cx="59.3" cy="20.5" rx="6.5" ry="6.5" fill="url(#rim)"/>
<ellipse cx="59.3" cy="20.5" rx="5.98" ry="5.98" fill="#000" filter="url(#tx)"/>
<ellipse cx="42.5" cy="49.4" rx="6" ry="7.5" fill="#cfcfcf" stroke="#555" stroke-width="1.20"/>
<ellipse cx="42.5" cy="49.4" rx="6" ry="7.5" fill="url(#rim)"/>
<ellipse cx="42.5" cy="49.4" rx="5.52" ry="6.90" fill="#000" filter="url(#tx)"/>
<ellipse cx="56.2" cy="51.7" rx="3" ry="3" fill="#c3c3c3" stroke="#555" stroke-width="1.08"/>
<ellipse cx="13" cy="3.8" rx="2" ry="2" fill="#dedede" stroke="#666" stroke-width="0.96"/>
<ellipse cx="48.6" cy="3.8" rx="3" ry="3" fill="#8e8e8e"/>
</g></g>
<rect x="277.00" y="311.00" width="78.60" height="58.30" fill="#e1e1e1" />
<g clip-path="url(#cp23)"><g filter="url(#bl)" transform="translate(277.00 311.00)">
<ellipse cx="21.5" cy="23.8" rx="12" ry="10" fill="#9c9c9c" stroke="#555" stroke-width="1.80"/>
<ellipse cx="21.5" cy="23.8" rx="12" ry="10" fill="url(#rim)"/>
<ellipse cx="21.5" cy="23.8" rx="11.04" ry="9.20" fill="#000" filter="url(#tx)"/>
<ellipse cx="40" cy="7" rx="6" ry="6" fill="#9c9c9c" stroke="#555" stroke-width="0.96"/>
<ellipse cx="40" cy="7" rx="6" ry="6" fill="url(#rim)"/>
<ellipse cx="40" cy="7" rx="5.52" ry="5.52" fill="#000" filter="url(#tx)"/>
<ellipse cx="52.3" cy="13" rx="5" ry="5" fill="#9d9d9d" stroke="#666" stroke-width="0.96"/>
<ellipse cx="52.3" cy="13" rx="5" ry="5" fill="url(#rim)"/>
<ellipse cx="52.3" cy="13" rx="4.60" ry="4.60" fill="#000" filter="url(#tx)"/>
<ellipse cx="37" cy="40" rx="6" ry="7" fill="#a2a2a2" stroke="#555" stroke-width="1.08"/>
<ellipse cx="37" cy="40" rx="6" ry="7" fill="url(#rim)"/>
<ellipse cx="37" cy="40" rx="5.52" ry="6.44" fill="#000" filter="url(#tx)"/>
<ellipse cx="57.7" cy="33" rx="6" ry="6" fill="#cccccc" stroke="#555" stroke-width="1.20"/>
<ellipse cx="57.7" cy="33" rx="6" ry="6" fill="url(#rim)"/>
<ellipse cx="57.7" cy="33" rx="5.52" ry="5.52" fill="#000" filter="url(#tx)"/>
<ellipse cx="66" cy="39.2" rx="4" ry="4" fill="#8e8e8e"/>
<ellipse cx="59.2" cy="53.8" rx="4.5" ry="4.5" fill="#b6b6b6" stroke="#444" stroke-width="1.20"/>
<ellipse cx="59.2" cy="53.8" rx="4.5" ry="4.5" fill="url(#rim)"/>
<ellipse cx="3.8" cy="17.7" rx="5" ry="9" fill="#c3c3c3" stroke="#777" stroke-width="1.20"/>
<ellipse cx="3.8" cy="17.7" rx="5" ry="9" fill="url(#rim)"/>
<ellipse cx="3.8" cy="17.7" rx="4.60" ry="8.28" fill="#000" filter="url(#tx)"/>
<ellipse cx="3.8" cy="52.3" rx="5" ry="6" fill="#a9a9a9" stroke="#666" stroke-width="1.20"/>
<ellipse cx="3.8" cy="52.3" rx="5" ry="6" fill="url(#rim)"/>
<ellipse cx="3.8" cy="52.3" rx="4.60" ry="5.52" fill="#000" filter="url(#tx)"/>
<ellipse cx="71.5" cy="16.2" rx="3" ry="3" fill="#a9a9a9"/>
</g></g>
<rect x="356.20" y="311.00" width="77.80" height="58.30" fill="#dedede" />
<g clip-path="url(#cp24)"><g filter="url(#bl)" transform="translate(356.20 311.00)">
<ellipse cx="10.8" cy="11.5" rx="7.5" ry="8.5" fill="#a3a3a3" stroke="#444" stroke-width="1.44"/>
<ellipse cx="10.8" cy="11.5" rx="7.5" ry="8.5" fill="url(#rim)"/>
<ellipse cx="10.8" cy="11.5" rx="6.90" ry="7.82" fill="#000" filter="url(#tx)"/>
<ellipse cx="23" cy="20.8" rx="7" ry="7" fill="#afafaf" stroke="#555" stroke-width="1.20"/>
<ellipse cx="23" cy="20.8" rx="7" ry="7" fill="url(#rim)"/>
<ellipse cx="23" cy="20.8" rx="6.44" ry="6.44" fill="#000" filter="url(#tx)"/>
<ellipse cx="36" cy="27" rx="7.5" ry="7.5" fill="#afafaf" stroke="#444" stroke-width="1.20"/>
<ellipse cx="36" cy="27" rx="7.5" ry="7.5" fill="url(#rim)"/>
<ellipse cx="36" cy="27" rx="6.90" ry="6.90" fill="#000" filter="url(#tx)"/>
<ellipse cx="43" cy="12" rx="4.5" ry="4.5" fill="#e0e0e0" stroke="#444" stroke-width="1.20"/>
<ellipse cx="43" cy="12" rx="4.5" ry="4.5" fill="url(#rim)"/>
<ellipse cx="65.4" cy="25.4" rx="7" ry="10" fill="#959595" stroke="#555" stroke-width="1.20"/>
<ellipse cx="65.4" cy="25.4" rx="7" ry="10" fill="url(#rim)"/>
<ellipse cx="65.4" cy="25.4" rx="6.44" ry="9.20" fill="#000" filter="url(#tx)"/>
<ellipse cx="7" cy="47.7" rx="6" ry="5" fill="#a3a3a3" stroke="#444" stroke-width="1.20"/>
<ellipse cx="7" cy="47.7" rx="6" ry="5" fill="url(#rim)"/>
<ellipse cx="7" cy="47.7" rx="5.52" ry="4.60" fill="#000" filter="url(#tx)"/>
<ellipse cx="47" cy="44.6" rx="4" ry="4" fill="#808080"/>
<ellipse cx="75.4" cy="43.8" rx="5" ry="8" fill="#c7c7c7" stroke="#777" stroke-width="1.20"/>
<ellipse cx="75.4" cy="43.8" rx="5" ry="8" fill="url(#rim)"/>
<ellipse cx="75.4" cy="43.8" rx="4.60" ry="7.36" fill="#000" filter="url(#tx)"/>
<ellipse cx="63" cy="59.2" rx="6" ry="3" fill="#9b9b9b"/>
</g></g>
<rect x="435.00" y="311.00" width="78.00" height="58.30" fill="#e4e4e4" />
<g clip-path="url(#cp25)"><g filter="url(#bl)" transform="translate(435.00 311.00)">
<ellipse cx="37" cy="4.6" rx="8" ry="5" fill="#d4d4d4"/>
<ellipse cx="14.6" cy="17.7" rx="10" ry="9" fill="#afafaf" stroke="#555" stroke-width="1.20"/>
<ellipse cx="14.6" cy="17.7" rx="10" ry="9" fill="url(#rim)"/>
<ellipse cx="14.6" cy="17.7" rx="9.20" ry="8.28" fill="#000" filter="url(#tx)"/>
<ellipse cx="10.8" cy="33" rx="6.5" ry="8" fill="#a3a3a3" stroke="#555" stroke-width="1.20"/>
<ellipse cx="10.8" cy="33" rx="6.5" ry="8" fill="url(#rim)"/>
<ellipse cx="10.8" cy="33" rx="5.98" ry="7.36" fill="#000" filter="url(#tx)"/>
<ellipse cx="30" cy="39.2" rx="13" ry="7" fill="#b5b5b5" stroke="#555" stroke-width="1.20" transform="rotate(30 30 39.2)"/>
<ellipse cx="30" cy="39.2" rx="13" ry="7" fill="url(#rim)" transform="rotate(30 30 39.2)"/>
<ellipse cx="30" cy="39.2" rx="11.96" ry="6.44" fill="#000" filter="url(#tx)" transform="rotate(30 30 39.2)"/>
<ellipse cx="30" cy="13" rx="4" ry="4" fill="#8f8f8f"/>
<ellipse cx="53" cy="23" rx="7" ry="8" fill="#8a8a8a" stroke="#444" stroke-width="1.20"/>
<ellipse cx="53" cy="23" rx="7" ry="8" fill="url(#rim)"/>
<ellipse cx="53" cy="23" rx="6.44" ry="7.36" fill="#000" filter="url(#tx)"/>
<ellipse cx="60" cy="9.2" rx="4" ry="4" fill="#dfdfdf" stroke="#777" stroke-width="1.20"/>
<ellipse cx="60" cy="9.2" rx="4" ry="4" fill="url(#rim)"/>
<ellipse cx="64.6" cy="33" rx="4.5" ry="4.5" fill="#cecece" stroke="#777" stroke-width="1.20"/>
<ellipse cx="64.6" cy="33" rx="4.5" ry="4.5" fill="url(#rim)"/>
</g></g>
<text x="9.80" y="394.80" font-size="11.2" fill="#000" font-weight="bold" >D</text>
<rect x="55.30" y="404.20" width="8.20" height="69.80" fill="#efc78b" />
<line x1="55.70" y1="404.20" x2="55.70" y2="474.00" stroke="#cdab77" stroke-width="0.8"/>
<line x1="63.10" y1="404.20" x2="63.10" y2="474.00" stroke="#cdab77" stroke-width="0.8"/>
<rect x="67.80" y="404.20" width="8.20" height="69.80" fill="#cc8a7e" />
<line x1="68.20" y1="404.20" x2="68.20" y2="474.00" stroke="#af766c" stroke-width="0.8"/>
<line x1="75.60" y1="404.20" x2="75.60" y2="474.00" stroke="#af766c" stroke-width="0.8"/>
<rect x="80.30" y="407.30" width="8.20" height="66.70" fill="#8f97ba" />
<line x1="80.70" y1="407.30" x2="80.70" y2="474.00" stroke="#7a819f" stroke-width="0.8"/>
<line x1="88.10" y1="407.30" x2="88.10" y2="474.00" stroke="#7a819f" stroke-width="0.8"/>
<rect x="92.80" y="408.00" width="8.20" height="66.00" fill="#d2ae86" />
<line x1="93.20" y1="408.00" x2="93.20" y2="474.00" stroke="#b49573" stroke-width="0.8"/>
<line x1="100.60" y1="408.00" x2="100.60" y2="474.00" stroke="#b49573" stroke-width="0.8"/>
<rect x="105.30" y="409.60" width="8.20" height="64.40" fill="#9a82a6" />
<line x1="105.70" y1="409.60" x2="105.70" y2="474.00" stroke="#846f8e" stroke-width="0.8"/>
<line x1="113.10" y1="409.60" x2="113.10" y2="474.00" stroke="#846f8e" stroke-width="0.8"/>
<rect x="117.80" y="409.60" width="8.20" height="64.40" fill="#b8d39a" />
<line x1="118.20" y1="409.60" x2="118.20" y2="474.00" stroke="#9eb584" stroke-width="0.8"/>
<line x1="125.60" y1="409.60" x2="125.60" y2="474.00" stroke="#9eb584" stroke-width="0.8"/>
<circle cx="57.40" cy="401.50" r="2.10" fill="#e8961f"/>
<circle cx="60.50" cy="401.50" r="2.10" fill="#e8961f"/>
<circle cx="58.90" cy="405.00" r="2.10" fill="#e8961f"/>
<rect x="68.35" y="400.15" width="3.70" height="3.70" fill="#b0002a" />
<rect x="71.65" y="400.15" width="3.70" height="3.70" fill="#b0002a" />
<rect x="69.85" y="403.65" width="3.70" height="3.70" fill="#b0002a" />
<polygon points="80.65,403.06 84.95,403.06 82.80,406.94" fill="#21478a"/>
<polygon points="84.05,403.06 88.35,403.06 86.20,406.94" fill="#21478a"/>
<polygon points="82.15,405.67 86.45,405.67 84.30,409.54" fill="#21478a"/>
<polygon points="93.35,406.94 97.65,406.94 95.50,403.06" fill="#ad661c"/>
<polygon points="96.05,406.94 100.35,406.94 98.20,403.06" fill="#ad661c"/>
<polygon points="94.45,411.54 98.75,411.54 96.60,407.67" fill="#ad661c"/>
<rect x="107.35" y="403.15" width="3.70" height="3.70" fill="#4b1d6e" />
<rect x="109.35" y="406.95" width="3.70" height="3.70" fill="#4b1d6e" />
<rect x="104.75" y="409.35" width="3.70" height="3.70" fill="#4b1d6e" />
<rect x="107.05" y="410.85" width="3.70" height="3.70" fill="#4b1d6e" />
<polygon points="120.50,404.20 122.80,406.50 120.50,408.80 118.20,406.50" fill="#55ab3c"/>
<polygon points="122.80,406.50 125.10,408.80 122.80,411.10 120.50,408.80" fill="#55ab3c"/>
<polygon points="121.20,409.60 123.50,411.90 121.20,414.20 118.90,411.90" fill="#55ab3c"/>
<line x1="50.80" y1="395.10" x2="50.80" y2="474.70" stroke="#231f20" stroke-width="1.5"/>
<line x1="50.10" y1="474.00" x2="130.20" y2="474.00" stroke="#231f20" stroke-width="1.5"/>
<line x1="90.40" y1="474.00" x2="90.40" y2="477.00" stroke="#231f20" stroke-width="1.0"/>
<line x1="48.00" y1="401.90" x2="50.80" y2="401.90" stroke="#231f20" stroke-width="1.1"/>
<text x="45.00" y="405.10" font-size="9.4" text-anchor="end" textLength="12.00" lengthAdjust="spacingAndGlyphs" fill="#231f20" >100</text>
<line x1="48.00" y1="437.95" x2="50.80" y2="437.95" stroke="#231f20" stroke-width="1.1"/>
<text x="45.00" y="441.15" font-size="9.4" text-anchor="end" textLength="9.30" lengthAdjust="spacingAndGlyphs" fill="#231f20" >50</text>
<line x1="48.00" y1="474.00" x2="50.80" y2="474.00" stroke="#231f20" stroke-width="1.1"/>
<text x="45.00" y="477.20" font-size="9.4" text-anchor="end" textLength="5.00" lengthAdjust="spacingAndGlyphs" fill="#231f20" >0</text>
<text x="65.70" y="486.80" font-size="8.4" textLength="49.50" lengthAdjust="spacingAndGlyphs" fill="#231f20" >Pt.5 (non-risk)</text>
<g transform="translate(22.40 434.50) rotate(-90)"><text x="0" y="3.40" font-size="9.6" text-anchor="middle" textLength="41.60" lengthAdjust="spacingAndGlyphs" fill="#231f20">Viability (%)</text></g>
<rect x="169.65" y="406.50" width="8.20" height="67.50" fill="#efc78b" />
<line x1="170.05" y1="406.50" x2="170.05" y2="474.00" stroke="#cdab77" stroke-width="0.8"/>
<line x1="177.45" y1="406.50" x2="177.45" y2="474.00" stroke="#cdab77" stroke-width="0.8"/>
<rect x="182.15" y="415.00" width="8.20" height="59.00" fill="#cc8a7e" />
<line x1="182.55" y1="415.00" x2="182.55" y2="474.00" stroke="#af766c" stroke-width="0.8"/>
<line x1="189.95" y1="415.00" x2="189.95" y2="474.00" stroke="#af766c" stroke-width="0.8"/>
<rect x="194.65" y="410.40" width="8.20" height="63.60" fill="#8f97ba" />
<line x1="195.05" y1="410.40" x2="195.05" y2="474.00" stroke="#7a819f" stroke-width="0.8"/>
<line x1="202.45" y1="410.40" x2="202.45" y2="474.00" stroke="#7a819f" stroke-width="0.8"/>
<rect x="207.15" y="414.20" width="8.20" height="59.80" fill="#d2ae86" />
<line x1="207.55" y1="414.20" x2="207.55" y2="474.00" stroke="#b49573" stroke-width="0.8"/>
<line x1="214.95" y1="414.20" x2="214.95" y2="474.00" stroke="#b49573" stroke-width="0.8"/>
<rect x="219.65" y="404.20" width="8.20" height="69.80" fill="#9a82a6" />
<line x1="220.05" y1="404.20" x2="220.05" y2="474.00" stroke="#846f8e" stroke-width="0.8"/>
<line x1="227.45" y1="404.20" x2="227.45" y2="474.00" stroke="#846f8e" stroke-width="0.8"/>
<rect x="232.15" y="405.80" width="8.20" height="68.20" fill="#b8d39a" />
<line x1="232.55" y1="405.80" x2="232.55" y2="474.00" stroke="#9eb584" stroke-width="0.8"/>
<line x1="239.95" y1="405.80" x2="239.95" y2="474.00" stroke="#9eb584" stroke-width="0.8"/>
<line x1="198.75" y1="404.30" x2="198.75" y2="410.50" stroke="#21478a" stroke-width="0.9"/>
<line x1="196.95" y1="404.30" x2="200.55" y2="404.30" stroke="#21478a" stroke-width="0.9"/>
<circle cx="171.90" cy="405.80" r="2.10" fill="#e8961f"/>
<circle cx="175.00" cy="406.50" r="2.10" fill="#e8961f"/>
<rect x="182.35" y="410.85" width="3.70" height="3.70" fill="#b0002a" />
<rect x="185.45" y="412.35" width="3.70" height="3.70" fill="#b0002a" />
<rect x="183.95" y="414.35" width="3.70" height="3.70" fill="#b0002a" />
<polygon points="195.95,403.06 200.25,403.06 198.10,406.94" fill="#21478a"/>
<polygon points="194.35,407.67 198.65,407.67 196.50,411.54" fill="#21478a"/>
<polygon points="198.25,407.67 202.55,407.67 200.40,411.54" fill="#21478a"/>
<polygon points="208.25,412.33 212.55,412.33 210.40,408.46" fill="#ad661c"/>
<polygon points="206.65,416.94 210.95,416.94 208.80,413.06" fill="#ad661c"/>
<polygon points="211.35,416.13 215.65,416.13 213.50,412.26" fill="#ad661c"/>
<rect x="220.05" y="402.05" width="3.70" height="3.70" fill="#4b1d6e" />
<rect x="223.45" y="402.05" width="3.70" height="3.70" fill="#4b1d6e" />
<rect x="221.65" y="404.65" width="3.70" height="3.70" fill="#4b1d6e" />
<polygon points="234.50,399.60 236.80,401.90 234.50,404.20 232.20,401.90" fill="#55ab3c"/>
<polygon points="236.50,402.20 238.80,404.50 236.50,406.80 234.20,404.50" fill="#55ab3c"/>
<polygon points="235.00,404.20 237.30,406.50 235.00,408.80 232.70,406.50" fill="#55ab3c"/>
<line x1="165.10" y1="395.10" x2="165.10" y2="474.70" stroke="#231f20" stroke-width="1.5"/>
<line x1="164.40" y1="474.00" x2="244.50" y2="474.00" stroke="#231f20" stroke-width="1.5"/>
<line x1="204.70" y1="474.00" x2="204.70" y2="477.00" stroke="#231f20" stroke-width="1.0"/>
<line x1="162.30" y1="401.90" x2="165.10" y2="401.90" stroke="#231f20" stroke-width="1.1"/>
<text x="159.30" y="405.10" font-size="9.4" text-anchor="end" textLength="12.00" lengthAdjust="spacingAndGlyphs" fill="#231f20" >100</text>
<line x1="162.30" y1="437.95" x2="165.10" y2="437.95" stroke="#231f20" stroke-width="1.1"/>
<text x="159.30" y="441.15" font-size="9.4" text-anchor="end" textLength="9.30" lengthAdjust="spacingAndGlyphs" fill="#231f20" >50</text>
<line x1="162.30" y1="474.00" x2="165.10" y2="474.00" stroke="#231f20" stroke-width="1.1"/>
<text x="159.30" y="477.20" font-size="9.4" text-anchor="end" textLength="5.00" lengthAdjust="spacingAndGlyphs" fill="#231f20" >0</text>
<text x="179.80" y="486.80" font-size="8.4" textLength="49.60" lengthAdjust="spacingAndGlyphs" fill="#231f20" >Pt.7 (non-risk)</text>
<rect x="284.00" y="403.50" width="8.20" height="70.50" fill="#efc78b" />
<line x1="284.40" y1="403.50" x2="284.40" y2="474.00" stroke="#cdab77" stroke-width="0.8"/>
<line x1="291.80" y1="403.50" x2="291.80" y2="474.00" stroke="#cdab77" stroke-width="0.8"/>
<rect x="296.50" y="408.00" width="8.20" height="66.00" fill="#cc8a7e" />
<line x1="296.90" y1="408.00" x2="296.90" y2="474.00" stroke="#af766c" stroke-width="0.8"/>
<line x1="304.30" y1="408.00" x2="304.30" y2="474.00" stroke="#af766c" stroke-width="0.8"/>
<rect x="309.00" y="407.30" width="8.20" height="66.70" fill="#8f97ba" />
<line x1="309.40" y1="407.30" x2="309.40" y2="474.00" stroke="#7a819f" stroke-width="0.8"/>
<line x1="316.80" y1="407.30" x2="316.80" y2="474.00" stroke="#7a819f" stroke-width="0.8"/>
<rect x="321.50" y="407.30" width="8.20" height="66.70" fill="#d2ae86" />
<line x1="321.90" y1="407.30" x2="321.90" y2="474.00" stroke="#b49573" stroke-width="0.8"/>
<line x1="329.30" y1="407.30" x2="329.30" y2="474.00" stroke="#b49573" stroke-width="0.8"/>
<rect x="334.00" y="408.00" width="8.20" height="66.00" fill="#9a82a6" />
<line x1="334.40" y1="408.00" x2="334.40" y2="474.00" stroke="#846f8e" stroke-width="0.8"/>
<line x1="341.80" y1="408.00" x2="341.80" y2="474.00" stroke="#846f8e" stroke-width="0.8"/>
<rect x="346.50" y="404.20" width="8.20" height="69.80" fill="#b8d39a" />
<line x1="346.90" y1="404.20" x2="346.90" y2="474.00" stroke="#9eb584" stroke-width="0.8"/>
<line x1="354.30" y1="404.20" x2="354.30" y2="474.00" stroke="#9eb584" stroke-width="0.8"/>
<circle cx="286.90" cy="401.90" r="2.10" fill="#e8961f"/>
<circle cx="289.50" cy="401.90" r="2.10" fill="#e8961f"/>
<circle cx="288.00" cy="403.90" r="2.10" fill="#e8961f"/>
<rect x="297.35" y="404.65" width="3.70" height="3.70" fill="#b0002a" />
<rect x="300.45" y="405.15" width="3.70" height="3.70" fill="#b0002a" />
<polygon points="309.35,403.56 313.65,403.56 311.50,407.44" fill="#21478a"/>
<polygon points="312.45,403.56 316.75,403.56 314.60,407.44" fill="#21478a"/>
<polygon points="310.95,405.06 315.25,405.06 313.10,408.94" fill="#21478a"/>
<polygon points="322.45,405.44 326.75,405.44 324.60,401.56" fill="#ad661c"/>
<polygon points="323.65,408.44 327.95,408.44 325.80,404.56" fill="#ad661c"/>
<polygon points="321.65,410.74 325.95,410.74 323.80,406.87" fill="#ad661c"/>
<polygon points="324.75,410.74 329.05,410.74 326.90,406.87" fill="#ad661c"/>
<rect x="334.75" y="404.65" width="3.70" height="3.70" fill="#4b1d6e" />
<rect x="337.85" y="404.65" width="3.70" height="3.70" fill="#4b1d6e" />
<polygon points="349.20,399.60 351.50,401.90 349.20,404.20 346.90,401.90" fill="#55ab3c"/>
<polygon points="351.50,401.60 353.80,403.90 351.50,406.20 349.20,403.90" fill="#55ab3c"/>
<polygon points="350.00,402.70 352.30,405.00 350.00,407.30 347.70,405.00" fill="#55ab3c"/>
<line x1="279.60" y1="395.10" x2="279.60" y2="474.70" stroke="#231f20" stroke-width="1.5"/>
<line x1="278.90" y1="474.00" x2="359.00" y2="474.00" stroke="#231f20" stroke-width="1.5"/>
<line x1="319.20" y1="474.00" x2="319.20" y2="477.00" stroke="#231f20" stroke-width="1.0"/>
<line x1="276.80" y1="401.90" x2="279.60" y2="401.90" stroke="#231f20" stroke-width="1.1"/>
<text x="273.80" y="405.10" font-size="9.4" text-anchor="end" textLength="12.00" lengthAdjust="spacingAndGlyphs" fill="#231f20" >100</text>
<line x1="276.80" y1="437.95" x2="279.60" y2="437.95" stroke="#231f20" stroke-width="1.1"/>
<text x="273.80" y="441.15" font-size="9.4" text-anchor="end" textLength="9.30" lengthAdjust="spacingAndGlyphs" fill="#231f20" >50</text>
<line x1="276.80" y1="474.00" x2="279.60" y2="474.00" stroke="#231f20" stroke-width="1.1"/>
<text x="273.80" y="477.20" font-size="9.4" text-anchor="end" textLength="5.00" lengthAdjust="spacingAndGlyphs" fill="#231f20" >0</text>
<text x="291.90" y="486.80" font-size="8.4" textLength="55.10" lengthAdjust="spacingAndGlyphs" fill="#231f20" >Pt.11 (non-risk)</text>
<rect x="374.60" y="403.10" width="7.30" height="4.60" fill="#e8961f" />
<text x="384.80" y="407.90" font-size="7.6" textLength="6.50" lengthAdjust="spacingAndGlyphs" fill="#231f20" >(-)</text>
<rect x="374.60" y="414.60" width="7.30" height="4.60" fill="#b0002a" />
<text x="384.80" y="419.40" font-size="7.6" textLength="19.20" lengthAdjust="spacingAndGlyphs" fill="#231f20" >TNFα</text>
<rect x="374.60" y="426.20" width="7.30" height="4.60" fill="#21478a" />
<text x="384.80" y="431.00" font-size="7.6" textLength="60.00" lengthAdjust="spacingAndGlyphs" fill="#231f20" >TNFα+Ruxolitinib</text>
<rect x="374.60" y="438.10" width="7.30" height="4.60" fill="#ad661c" />
<text x="384.80" y="442.90" font-size="7.6" textLength="51.70" lengthAdjust="spacingAndGlyphs" fill="#231f20" >TNFα+GSK547</text>
<rect x="374.60" y="449.60" width="7.30" height="4.60" fill="#4b1d6e" />
<text x="384.80" y="454.40" font-size="7.6" textLength="48.10" lengthAdjust="spacingAndGlyphs" fill="#231f20" >TNFα+Nec-1s</text>
<rect x="374.60" y="461.20" width="7.30" height="4.60" fill="#55ab3c" />
<text x="384.80" y="466.00" font-size="7.6" textLength="39.80" lengthAdjust="spacingAndGlyphs" fill="#231f20" >TNFα+NSA</text>
<rect x="55.30" y="530.50" width="8.20" height="66.30" fill="#efc78b" />
<line x1="55.70" y1="530.50" x2="55.70" y2="596.80" stroke="#cdab77" stroke-width="0.8"/>
<line x1="63.10" y1="530.50" x2="63.10" y2="596.80" stroke="#cdab77" stroke-width="0.8"/>
<rect x="67.80" y="566.60" width="8.20" height="30.20" fill="#cc8a7e" />
<line x1="68.20" y1="566.60" x2="68.20" y2="596.80" stroke="#af766c" stroke-width="0.8"/>
<line x1="75.60" y1="566.60" x2="75.60" y2="596.80" stroke="#af766c" stroke-width="0.8"/>
<rect x="80.30" y="545.80" width="8.20" height="51.00" fill="#8f97ba" />
<line x1="80.70" y1="545.80" x2="80.70" y2="596.80" stroke="#7a819f" stroke-width="0.8"/>
<line x1="88.10" y1="545.80" x2="88.10" y2="596.80" stroke="#7a819f" stroke-width="0.8"/>
<rect x="92.80" y="536.60" width="8.20" height="60.20" fill="#d2ae86" />
<line x1="93.20" y1="536.60" x2="93.20" y2="596.80" stroke="#b49573" stroke-width="0.8"/>
<line x1="100.60" y1="536.60" x2="100.60" y2="596.80" stroke="#b49573" stroke-width="0.8"/>
<rect x="105.30" y="535.80" width="8.20" height="61.00" fill="#9a82a6" />
<line x1="105.70" y1="535.80" x2="105.70" y2="596.80" stroke="#846f8e" stroke-width="0.8"/>
<line x1="113.10" y1="535.80" x2="113.10" y2="596.80" stroke="#846f8e" stroke-width="0.8"/>
<rect x="117.80" y="536.60" width="8.20" height="60.20" fill="#b8d39a" />
<line x1="118.20" y1="536.60" x2="118.20" y2="596.80" stroke="#9eb584" stroke-width="0.8"/>
<line x1="125.60" y1="536.60" x2="125.60" y2="596.80" stroke="#9eb584" stroke-width="0.8"/>
<line x1="83.40" y1="541.20" x2="83.40" y2="546.00" stroke="#21478a" stroke-width="0.9"/>
<line x1="81.60" y1="541.20" x2="85.20" y2="541.20" stroke="#21478a" stroke-width="0.9"/>
<circle cx="57.40" cy="528.50" r="2.10" fill="#e8961f"/>
<circle cx="60.00" cy="530.00" r="2.10" fill="#e8961f"/>
<circle cx="58.90" cy="532.00" r="2.10" fill="#e8961f"/>
<rect x="68.35" y="561.35" width="3.70" height="3.70" fill="#b0002a" />
<rect x="70.95" y="563.95" width="3.70" height="3.70" fill="#b0002a" />
<rect x="69.35" y="565.55" width="3.70" height="3.70" fill="#b0002a" />
<polygon points="81.35,541.57 85.65,541.57 83.50,545.43" fill="#21478a"/>
<polygon points="82.85,543.87 87.15,543.87 85.00,547.73" fill="#21478a"/>
<polygon points="94.45,533.13 98.75,533.13 96.60,529.27" fill="#ad661c"/>
<polygon points="96.05,536.23 100.35,536.23 98.20,532.37" fill="#ad661c"/>
<polygon points="92.15,539.33 96.45,539.33 94.30,535.47" fill="#ad661c"/>
<rect x="106.35" y="532.45" width="3.70" height="3.70" fill="#4b1d6e" />
<rect x="109.35" y="534.75" width="3.70" height="3.70" fill="#4b1d6e" />
<rect x="105.55" y="535.55" width="3.70" height="3.70" fill="#4b1d6e" />
<polygon points="120.50,530.50 122.80,532.80 120.50,535.10 118.20,532.80" fill="#55ab3c"/>
<polygon points="123.10,533.20 125.40,535.50 123.10,537.80 120.80,535.50" fill="#55ab3c"/>
<polygon points="121.20,535.10 123.50,537.40 121.20,539.70 118.90,537.40" fill="#55ab3c"/>
<line x1="50.80" y1="517.40" x2="50.80" y2="597.50" stroke="#231f20" stroke-width="1.5"/>
<line x1="50.10" y1="596.80" x2="130.20" y2="596.80" stroke="#231f20" stroke-width="1.5"/>
<line x1="90.40" y1="596.80" x2="90.40" y2="599.80" stroke="#231f20" stroke-width="1.0"/>
<line x1="48.00" y1="524.20" x2="50.80" y2="524.20" stroke="#231f20" stroke-width="1.1"/>
<text x="45.00" y="527.40" font-size="9.4" text-anchor="end" textLength="12.00" lengthAdjust="spacingAndGlyphs" fill="#231f20" >100</text>
<line x1="48.00" y1="560.50" x2="50.80" y2="560.50" stroke="#231f20" stroke-width="1.1"/>
<text x="45.00" y="563.70" font-size="9.4" text-anchor="end" textLength="9.30" lengthAdjust="spacingAndGlyphs" fill="#231f20" >50</text>
<line x1="48.00" y1="596.80" x2="50.80" y2="596.80" stroke="#231f20" stroke-width="1.1"/>
<text x="45.00" y="600.00" font-size="9.4" text-anchor="end" textLength="5.00" lengthAdjust="spacingAndGlyphs" fill="#231f20" >0</text>
<text x="55.20" y="609.40" font-size="8.4" textLength="70.80" lengthAdjust="spacingAndGlyphs" fill="#231f20" >Pt.2 (T300A;T300A)</text>
<g transform="translate(21.70 557.30) rotate(-90)"><text x="0" y="3.40" font-size="9.6" text-anchor="middle" textLength="41.60" lengthAdjust="spacingAndGlyphs" fill="#231f20">Viability (%)</text></g>
<line x1="59.40" y1="523.00" x2="72.80" y2="523.00" stroke="#231f20" stroke-width="1.3"/>
<g stroke="#231f20" stroke-width="0.95"><line x1="61.00" y1="518.45" x2="61.00" y2="520.75"/><line x1="60.00" y1="519.02" x2="62.00" y2="520.18"/><line x1="60.00" y1="520.18" x2="62.00" y2="519.02"/></g>
<g stroke="#231f20" stroke-width="0.95"><line x1="64.40" y1="518.45" x2="64.40" y2="520.75"/><line x1="63.40" y1="519.02" x2="65.40" y2="520.18"/><line x1="63.40" y1="520.18" x2="65.40" y2="519.02"/></g>
<g stroke="#231f20" stroke-width="0.95"><line x1="67.80" y1="518.45" x2="67.80" y2="520.75"/><line x1="66.80" y1="519.02" x2="68.80" y2="520.18"/><line x1="66.80" y1="520.18" x2="68.80" y2="519.02"/></g>
<g stroke="#231f20" stroke-width="0.95"><line x1="71.20" y1="518.45" x2="71.20" y2="520.75"/><line x1="70.20" y1="519.02" x2="72.20" y2="520.18"/><line x1="70.20" y1="520.18" x2="72.20" y2="519.02"/></g>
<line x1="72.00" y1="513.90" x2="106.20" y2="513.90" stroke="#231f20" stroke-width="1.3"/>
<g stroke="#231f20" stroke-width="0.95"><line x1="84.00" y1="509.35" x2="84.00" y2="511.65"/><line x1="83.00" y1="509.93" x2="85.00" y2="511.07"/><line x1="83.00" y1="511.07" x2="85.00" y2="509.93"/></g>
<g stroke="#231f20" stroke-width="0.95"><line x1="87.40" y1="509.35" x2="87.40" y2="511.65"/><line x1="86.40" y1="509.93" x2="88.40" y2="511.07"/><line x1="86.40" y1="511.07" x2="88.40" y2="509.93"/></g>
<g stroke="#231f20" stroke-width="0.95"><line x1="90.80" y1="509.35" x2="90.80" y2="511.65"/><line x1="89.80" y1="509.93" x2="91.80" y2="511.07"/><line x1="89.80" y1="511.07" x2="91.80" y2="509.93"/></g>
<g stroke="#231f20" stroke-width="0.95"><line x1="94.20" y1="509.35" x2="94.20" y2="511.65"/><line x1="93.20" y1="509.93" x2="95.20" y2="511.07"/><line x1="93.20" y1="511.07" x2="95.20" y2="509.93"/></g>
<polyline points="84.30,526.50 84.30,523.00 123.80,523.00 123.80,526.50" fill="none" stroke="#231f20" stroke-width="1.1"/>
<rect x="169.65" y="531.20" width="8.20" height="65.60" fill="#efc78b" />
<line x1="170.05" y1="531.20" x2="170.05" y2="596.80" stroke="#cdab77" stroke-width="0.8"/>
<line x1="177.45" y1="531.20" x2="177.45" y2="596.80" stroke="#cdab77" stroke-width="0.8"/>
<rect x="182.15" y="561.90" width="8.20" height="34.90" fill="#cc8a7e" />
<line x1="182.55" y1="561.90" x2="182.55" y2="596.80" stroke="#af766c" stroke-width="0.8"/>
<line x1="189.95" y1="561.90" x2="189.95" y2="596.80" stroke="#af766c" stroke-width="0.8"/>
<rect x="194.65" y="540.40" width="8.20" height="56.40" fill="#8f97ba" />
<line x1="195.05" y1="540.40" x2="195.05" y2="596.80" stroke="#7a819f" stroke-width="0.8"/>
<line x1="202.45" y1="540.40" x2="202.45" y2="596.80" stroke="#7a819f" stroke-width="0.8"/>
<rect x="207.15" y="534.20" width="8.20" height="62.60" fill="#d2ae86" />
<line x1="207.55" y1="534.20" x2="207.55" y2="596.80" stroke="#b49573" stroke-width="0.8"/>
<line x1="214.95" y1="534.20" x2="214.95" y2="596.80" stroke="#b49573" stroke-width="0.8"/>
<rect x="219.65" y="532.70" width="8.20" height="64.10" fill="#9a82a6" />
<line x1="220.05" y1="532.70" x2="220.05" y2="596.80" stroke="#846f8e" stroke-width="0.8"/>
<line x1="227.45" y1="532.70" x2="227.45" y2="596.80" stroke="#846f8e" stroke-width="0.8"/>
<rect x="232.15" y="533.50" width="8.20" height="63.30" fill="#b8d39a" />
<line x1="232.55" y1="533.50" x2="232.55" y2="596.80" stroke="#9eb584" stroke-width="0.8"/>
<line x1="239.95" y1="533.50" x2="239.95" y2="596.80" stroke="#9eb584" stroke-width="0.8"/>
<circle cx="171.80" cy="526.50" r="2.10" fill="#e8961f"/>
<circle cx="174.50" cy="531.20" r="2.10" fill="#e8961f"/>
<circle cx="172.90" cy="529.60" r="2.10" fill="#e8961f"/>
<rect x="182.65" y="556.95" width="3.70" height="3.70" fill="#b0002a" />
<rect x="185.65" y="560.05" width="3.70" height="3.70" fill="#b0002a" />
<rect x="184.15" y="561.65" width="3.70" height="3.70" fill="#b0002a" />
<polygon points="194.65,535.37 198.95,535.37 196.80,539.23" fill="#21478a"/>
<polygon points="197.65,536.07 201.95,536.07 199.80,539.93" fill="#21478a"/>
<polygon points="196.45,539.97 200.75,539.97 198.60,543.83" fill="#21478a"/>
<polygon points="208.45,531.53 212.75,531.53 210.60,527.67" fill="#ad661c"/>
<polygon points="211.55,534.63 215.85,534.63 213.70,530.77" fill="#ad661c"/>
<polygon points="206.95,539.93 211.25,539.93 209.10,536.07" fill="#ad661c"/>
<rect x="220.35" y="528.55" width="3.70" height="3.70" fill="#4b1d6e" />
<rect x="223.35" y="528.55" width="3.70" height="3.70" fill="#4b1d6e" />
<rect x="221.35" y="533.15" width="3.70" height="3.70" fill="#4b1d6e" />
<polygon points="235.20,527.30 237.50,529.60 235.20,531.90 232.90,529.60" fill="#55ab3c"/>
<polygon points="237.50,530.40 239.80,532.70 237.50,535.00 235.20,532.70" fill="#55ab3c"/>
<polygon points="236.00,531.90 238.30,534.20 236.00,536.50 233.70,534.20" fill="#55ab3c"/>
<line x1="165.10" y1="517.40" x2="165.10" y2="597.50" stroke="#231f20" stroke-width="1.5"/>
<line x1="164.40" y1="596.80" x2="244.50" y2="596.80" stroke="#231f20" stroke-width="1.5"/>
<line x1="204.70" y1="596.80" x2="204.70" y2="599.80" stroke="#231f20" stroke-width="1.0"/>
<line x1="162.30" y1="524.20" x2="165.10" y2="524.20" stroke="#231f20" stroke-width="1.1"/>
<text x="159.30" y="527.40" font-size="9.4" text-anchor="end" textLength="12.00" lengthAdjust="spacingAndGlyphs" fill="#231f20" >100</text>
<line x1="162.30" y1="560.50" x2="165.10" y2="560.50" stroke="#231f20" stroke-width="1.1"/>
<text x="159.30" y="563.70" font-size="9.4" text-anchor="end" textLength="9.30" lengthAdjust="spacingAndGlyphs" fill="#231f20" >50</text>
<line x1="162.30" y1="596.80" x2="165.10" y2="596.80" stroke="#231f20" stroke-width="1.1"/>
<text x="159.30" y="600.00" font-size="9.4" text-anchor="end" textLength="5.00" lengthAdjust="spacingAndGlyphs" fill="#231f20" >0</text>
<text x="168.80" y="609.40" font-size="8.4" textLength="72.70" lengthAdjust="spacingAndGlyphs" fill="#231f20" >Pt.8 (T300A/T300A)</text>
<line x1="174.00" y1="521.20" x2="187.20" y2="521.20" stroke="#231f20" stroke-width="1.3"/>
<g stroke="#231f20" stroke-width="0.95"><line x1="175.50" y1="516.65" x2="175.50" y2="518.95"/><line x1="174.50" y1="517.23" x2="176.50" y2="518.38"/><line x1="174.50" y1="518.38" x2="176.50" y2="517.23"/></g>
<g stroke="#231f20" stroke-width="0.95"><line x1="178.90" y1="516.65" x2="178.90" y2="518.95"/><line x1="177.90" y1="517.23" x2="179.90" y2="518.38"/><line x1="177.90" y1="518.38" x2="179.90" y2="517.23"/></g>
<g stroke="#231f20" stroke-width="0.95"><line x1="182.30" y1="516.65" x2="182.30" y2="518.95"/><line x1="181.30" y1="517.23" x2="183.30" y2="518.38"/><line x1="181.30" y1="518.38" x2="183.30" y2="517.23"/></g>
<g stroke="#231f20" stroke-width="0.95"><line x1="185.70" y1="516.65" x2="185.70" y2="518.95"/><line x1="184.70" y1="517.23" x2="186.70" y2="518.38"/><line x1="184.70" y1="518.38" x2="186.70" y2="517.23"/></g>
<line x1="187.20" y1="511.90" x2="221.40" y2="511.90" stroke="#231f20" stroke-width="1.3"/>
<g stroke="#231f20" stroke-width="0.95"><line x1="199.20" y1="507.35" x2="199.20" y2="509.65"/><line x1="198.20" y1="507.93" x2="200.20" y2="509.07"/><line x1="198.20" y1="509.07" x2="200.20" y2="507.93"/></g>
<g stroke="#231f20" stroke-width="0.95"><line x1="202.60" y1="507.35" x2="202.60" y2="509.65"/><line x1="201.60" y1="507.93" x2="203.60" y2="509.07"/><line x1="201.60" y1="509.07" x2="203.60" y2="507.93"/></g>
<g stroke="#231f20" stroke-width="0.95"><line x1="206.00" y1="507.35" x2="206.00" y2="509.65"/><line x1="205.00" y1="507.93" x2="207.00" y2="509.07"/><line x1="205.00" y1="509.07" x2="207.00" y2="507.93"/></g>
<g stroke="#231f20" stroke-width="0.95"><line x1="209.40" y1="507.35" x2="209.40" y2="509.65"/><line x1="208.40" y1="507.93" x2="210.40" y2="509.07"/><line x1="208.40" y1="509.07" x2="210.40" y2="507.93"/></g>
<polyline points="198.00,525.80 198.00,521.60 237.50,521.60 237.50,525.80" fill="none" stroke="#231f20" stroke-width="1.1"/>
<rect x="284.00" y="528.10" width="8.20" height="68.70" fill="#efc78b" />
<line x1="284.40" y1="528.10" x2="284.40" y2="596.80" stroke="#cdab77" stroke-width="0.8"/>
<line x1="291.80" y1="528.10" x2="291.80" y2="596.80" stroke="#cdab77" stroke-width="0.8"/>
<rect x="296.50" y="565.80" width="8.20" height="31.00" fill="#cc8a7e" />
<line x1="296.90" y1="565.80" x2="296.90" y2="596.80" stroke="#af766c" stroke-width="0.8"/>
<line x1="304.30" y1="565.80" x2="304.30" y2="596.80" stroke="#af766c" stroke-width="0.8"/>
<rect x="309.00" y="542.70" width="8.20" height="54.10" fill="#8f97ba" />
<line x1="309.40" y1="542.70" x2="309.40" y2="596.80" stroke="#7a819f" stroke-width="0.8"/>
<line x1="316.80" y1="542.70" x2="316.80" y2="596.80" stroke="#7a819f" stroke-width="0.8"/>
<rect x="321.50" y="536.50" width="8.20" height="60.30" fill="#d2ae86" />
<line x1="321.90" y1="536.50" x2="321.90" y2="596.80" stroke="#b49573" stroke-width="0.8"/>
<line x1="329.30" y1="536.50" x2="329.30" y2="596.80" stroke="#b49573" stroke-width="0.8"/>
<rect x="334.00" y="533.50" width="8.20" height="63.30" fill="#9a82a6" />
<line x1="334.40" y1="533.50" x2="334.40" y2="596.80" stroke="#846f8e" stroke-width="0.8"/>
<line x1="341.80" y1="533.50" x2="341.80" y2="596.80" stroke="#846f8e" stroke-width="0.8"/>
<rect x="346.50" y="535.00" width="8.20" height="61.80" fill="#b8d39a" />
<line x1="346.90" y1="535.00" x2="346.90" y2="596.80" stroke="#9eb584" stroke-width="0.8"/>
<line x1="354.30" y1="535.00" x2="354.30" y2="596.80" stroke="#9eb584" stroke-width="0.8"/>
<circle cx="286.40" cy="526.50" r="2.10" fill="#e8961f"/>
<circle cx="288.70" cy="528.10" r="2.10" fill="#e8961f"/>
<rect x="297.35" y="561.35" width="3.70" height="3.70" fill="#b0002a" />
<rect x="300.65" y="562.35" width="3.70" height="3.70" fill="#b0002a" />
<rect x="298.35" y="563.95" width="3.70" height="3.70" fill="#b0002a" />
<polygon points="309.65,537.67 313.95,537.67 311.80,541.53" fill="#21478a"/>
<polygon points="311.95,539.97 316.25,539.97 314.10,543.83" fill="#21478a"/>
<polygon points="323.45,533.83 327.75,533.83 325.60,529.97" fill="#ad661c"/>
<polygon points="325.75,536.13 330.05,536.13 327.90,532.27" fill="#ad661c"/>
<polygon points="321.15,540.73 325.45,540.73 323.30,536.87" fill="#ad661c"/>
<rect x="334.55" y="530.55" width="3.70" height="3.70" fill="#4b1d6e" />
<rect x="338.35" y="530.55" width="3.70" height="3.70" fill="#4b1d6e" />
<polygon points="349.50,529.60 351.80,531.90 349.50,534.20 347.20,531.90" fill="#55ab3c"/>
<polygon points="351.80,531.90 354.10,534.20 351.80,536.50 349.50,534.20" fill="#55ab3c"/>
<polygon points="350.20,534.20 352.50,536.50 350.20,538.80 347.90,536.50" fill="#55ab3c"/>
<line x1="279.60" y1="517.40" x2="279.60" y2="597.50" stroke="#231f20" stroke-width="1.5"/>
<line x1="278.90" y1="596.80" x2="359.00" y2="596.80" stroke="#231f20" stroke-width="1.5"/>
<line x1="319.20" y1="596.80" x2="319.20" y2="599.80" stroke="#231f20" stroke-width="1.0"/>
<line x1="276.80" y1="524.20" x2="279.60" y2="524.20" stroke="#231f20" stroke-width="1.1"/>
<text x="273.80" y="527.40" font-size="9.4" text-anchor="end" textLength="12.00" lengthAdjust="spacingAndGlyphs" fill="#231f20" >100</text>
<line x1="276.80" y1="560.50" x2="279.60" y2="560.50" stroke="#231f20" stroke-width="1.1"/>
<text x="273.80" y="563.70" font-size="9.4" text-anchor="end" textLength="9.30" lengthAdjust="spacingAndGlyphs" fill="#231f20" >50</text>
<line x1="276.80" y1="596.80" x2="279.60" y2="596.80" stroke="#231f20" stroke-width="1.1"/>
<text x="273.80" y="600.00" font-size="9.4" text-anchor="end" textLength="5.00" lengthAdjust="spacingAndGlyphs" fill="#231f20" >0</text>
<text x="281.40" y="609.40" font-size="8.4" textLength="76.70" lengthAdjust="spacingAndGlyphs" fill="#231f20" >Pt.20 (T300A/T300A)</text>
<line x1="288.40" y1="521.20" x2="301.80" y2="521.20" stroke="#231f20" stroke-width="1.3"/>
<g stroke="#231f20" stroke-width="0.95"><line x1="290.00" y1="516.65" x2="290.00" y2="518.95"/><line x1="289.00" y1="517.23" x2="291.00" y2="518.38"/><line x1="289.00" y1="518.38" x2="291.00" y2="517.23"/></g>
<g stroke="#231f20" stroke-width="0.95"><line x1="293.40" y1="516.65" x2="293.40" y2="518.95"/><line x1="292.40" y1="517.23" x2="294.40" y2="518.38"/><line x1="292.40" y1="518.38" x2="294.40" y2="517.23"/></g>
<g stroke="#231f20" stroke-width="0.95"><line x1="296.80" y1="516.65" x2="296.80" y2="518.95"/><line x1="295.80" y1="517.23" x2="297.80" y2="518.38"/><line x1="295.80" y1="518.38" x2="297.80" y2="517.23"/></g>
<g stroke="#231f20" stroke-width="0.95"><line x1="300.20" y1="516.65" x2="300.20" y2="518.95"/><line x1="299.20" y1="517.23" x2="301.20" y2="518.38"/><line x1="299.20" y1="518.38" x2="301.20" y2="517.23"/></g>
<line x1="301.80" y1="510.80" x2="336.10" y2="510.80" stroke="#231f20" stroke-width="1.3"/>
<g stroke="#231f20" stroke-width="0.95"><line x1="313.85" y1="506.25" x2="313.85" y2="508.55"/><line x1="312.85" y1="506.83" x2="314.85" y2="507.98"/><line x1="312.85" y1="507.98" x2="314.85" y2="506.83"/></g>
<g stroke="#231f20" stroke-width="0.95"><line x1="317.25" y1="506.25" x2="317.25" y2="508.55"/><line x1="316.25" y1="506.83" x2="318.25" y2="507.98"/><line x1="316.25" y1="507.98" x2="318.25" y2="506.83"/></g>
<g stroke="#231f20" stroke-width="0.95"><line x1="320.65" y1="506.25" x2="320.65" y2="508.55"/><line x1="319.65" y1="506.83" x2="321.65" y2="507.98"/><line x1="319.65" y1="507.98" x2="321.65" y2="506.83"/></g>
<g stroke="#231f20" stroke-width="0.95"><line x1="324.05" y1="506.25" x2="324.05" y2="508.55"/><line x1="323.05" y1="506.83" x2="325.05" y2="507.98"/><line x1="323.05" y1="507.98" x2="325.05" y2="506.83"/></g>
<polyline points="312.10,528.10 312.10,524.20 351.50,524.20 351.50,528.10" fill="none" stroke="#231f20" stroke-width="1.1"/>
<rect x="374.60" y="525.80" width="7.30" height="4.60" fill="#e8961f" />
<text x="384.80" y="530.60" font-size="7.6" textLength="6.50" lengthAdjust="spacingAndGlyphs" fill="#231f20" >(-)</text>
<rect x="374.60" y="537.30" width="7.30" height="4.60" fill="#b0002a" />
<text x="384.80" y="542.10" font-size="7.6" textLength="19.20" lengthAdjust="spacingAndGlyphs" fill="#231f20" >TNFα</text>
<rect x="374.60" y="548.90" width="7.30" height="4.60" fill="#21478a" />
<text x="384.80" y="553.70" font-size="7.6" textLength="60.00" lengthAdjust="spacingAndGlyphs" fill="#231f20" >TNFα+Ruxolitinib</text>
<rect x="374.60" y="560.40" width="7.30" height="4.60" fill="#ad661c" />
<text x="384.80" y="565.20" font-size="7.6" textLength="51.70" lengthAdjust="spacingAndGlyphs" fill="#231f20" >TNFα+GSK547</text>
<rect x="374.60" y="572.30" width="7.30" height="4.60" fill="#4b1d6e" />
<text x="384.80" y="577.10" font-size="7.6" textLength="48.10" lengthAdjust="spacingAndGlyphs" fill="#231f20" >TNFα+Nec-1s</text>
<rect x="374.60" y="583.90" width="7.30" height="4.60" fill="#55ab3c" />
<text x="384.80" y="588.70" font-size="7.6" textLength="39.80" lengthAdjust="spacingAndGlyphs" fill="#231f20" >TNFα+NSA</text>
<rect x="0.5" y="0.5" width="519" height="617" fill="none" stroke="#000" stroke-width="1"/>
</svg></body></html>
